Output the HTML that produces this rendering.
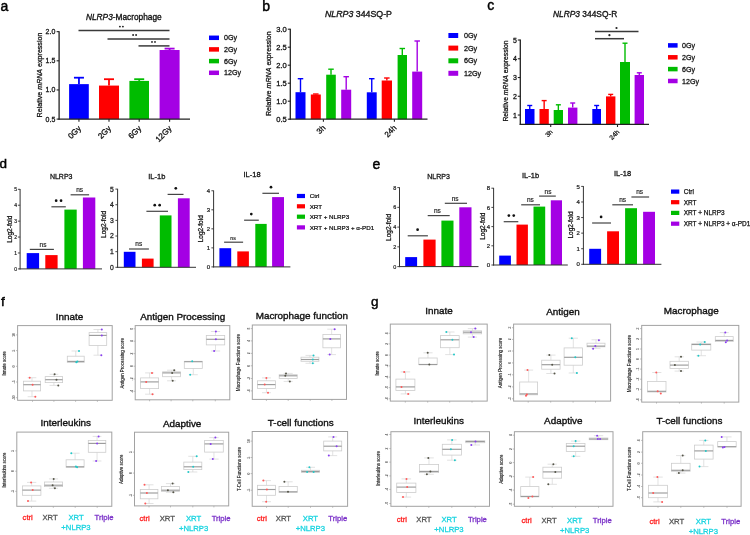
<!DOCTYPE html>
<html><head><meta charset="utf-8"><style>
html,body{margin:0;padding:0;background:#fff;}
body{width:750px;height:535px;overflow:hidden;}
svg{display:block;font-family:"Liberation Sans", sans-serif;will-change:transform;filter:blur(0.3px);}
text{stroke:currentColor;stroke-width:0.3px;}
</style></head><body>
<svg width="750" height="535" viewBox="0 0 750 535">
<rect width="750" height="535" fill="#fff"/>
<text x="0.40" y="10.80" font-size="14" text-anchor="start" fill="#000" color="#000" style="stroke-width:0.45px" >a</text>
<text x="86.00" y="20.00" font-size="8.3" text-anchor="start" fill="#111" color="#111" style="stroke-width:0.32px" ><tspan font-style="italic">NLRP3</tspan>-Macrophage</text>
<rect x="69.10" y="84.12" width="19.70" height="34.98" fill="#0000ff"/>
<line x1="78.95" y1="84.12" x2="78.95" y2="77.70" stroke="#0000ff" stroke-width="1.8" />
<line x1="73.95" y1="77.70" x2="83.95" y2="77.70" stroke="#0000ff" stroke-width="1.8" />
<rect x="99.00" y="85.58" width="20.00" height="33.52" fill="#ff0000"/>
<line x1="109.00" y1="85.58" x2="109.00" y2="79.20" stroke="#ff0000" stroke-width="1.8" />
<line x1="104.00" y1="79.20" x2="114.00" y2="79.20" stroke="#ff0000" stroke-width="1.8" />
<rect x="129.40" y="80.91" width="19.60" height="38.19" fill="#00bc00"/>
<line x1="139.20" y1="80.91" x2="139.20" y2="79.20" stroke="#00bc00" stroke-width="1.8" />
<line x1="134.20" y1="79.20" x2="144.20" y2="79.20" stroke="#00bc00" stroke-width="1.8" />
<rect x="159.60" y="50.01" width="20.00" height="69.09" fill="#a400e4"/>
<line x1="169.60" y1="50.01" x2="169.60" y2="48.60" stroke="#a400e4" stroke-width="1.8" />
<line x1="164.60" y1="48.60" x2="174.60" y2="48.60" stroke="#a400e4" stroke-width="1.8" />
<line x1="59.10" y1="31.15" x2="59.10" y2="119.70" stroke="#222" stroke-width="1.3" />
<line x1="58.50" y1="119.10" x2="190.00" y2="119.10" stroke="#222" stroke-width="1.3" />
<line x1="56.60" y1="31.65" x2="59.10" y2="31.65" stroke="#222" stroke-width="1.1" />
<text x="55.30" y="34.17" font-size="7" text-anchor="end" fill="#111" color="#111" style="stroke-width:0.27px" >2.0</text>
<line x1="56.60" y1="60.80" x2="59.10" y2="60.80" stroke="#222" stroke-width="1.1" />
<text x="55.30" y="63.32" font-size="7" text-anchor="end" fill="#111" color="#111" style="stroke-width:0.27px" >1.5</text>
<line x1="56.60" y1="89.95" x2="59.10" y2="89.95" stroke="#222" stroke-width="1.1" />
<text x="55.30" y="92.47" font-size="7" text-anchor="end" fill="#111" color="#111" style="stroke-width:0.27px" >1.0</text>
<line x1="56.60" y1="119.10" x2="59.10" y2="119.10" stroke="#222" stroke-width="1.1" />
<text x="55.30" y="121.62" font-size="7" text-anchor="end" fill="#111" color="#111" style="stroke-width:0.27px" >0.5</text>
<text transform="translate(41.80,75.00) rotate(-90)" font-size="7.1" text-anchor="middle" fill="#111" color="#111" style="stroke-width:0.27px" >Relative <tspan font-style="italic">mRNA</tspan> expression</text>
<line x1="78.95" y1="119.10" x2="78.95" y2="121.80" stroke="#222" stroke-width="1.1" />
<text transform="translate(81.55,129.00) rotate(-45)" font-size="8" text-anchor="end" fill="#111" color="#111" style="stroke-width:0.30px" >0Gy</text>
<line x1="109.00" y1="119.10" x2="109.00" y2="121.80" stroke="#222" stroke-width="1.1" />
<text transform="translate(111.60,129.00) rotate(-45)" font-size="8" text-anchor="end" fill="#111" color="#111" style="stroke-width:0.30px" >2Gy</text>
<line x1="139.20" y1="119.10" x2="139.20" y2="121.80" stroke="#222" stroke-width="1.1" />
<text transform="translate(141.80,129.00) rotate(-45)" font-size="8" text-anchor="end" fill="#111" color="#111" style="stroke-width:0.30px" >6Gy</text>
<line x1="169.60" y1="119.10" x2="169.60" y2="121.80" stroke="#222" stroke-width="1.1" />
<text transform="translate(172.20,129.00) rotate(-45)" font-size="8" text-anchor="end" fill="#111" color="#111" style="stroke-width:0.30px" >12Gy</text>
<line x1="78.50" y1="30.60" x2="169.50" y2="30.60" stroke="#3a3a3a" stroke-width="1.5" />
<circle cx="119.90" cy="26.60" r="0.95" fill="#222"/>
<circle cx="122.90" cy="26.60" r="0.95" fill="#222"/>
<line x1="107.50" y1="39.00" x2="169.50" y2="39.00" stroke="#3a3a3a" stroke-width="1.5" />
<circle cx="133.10" cy="35.00" r="0.95" fill="#222"/>
<circle cx="136.10" cy="35.00" r="0.95" fill="#222"/>
<line x1="138.50" y1="45.90" x2="169.50" y2="45.90" stroke="#3a3a3a" stroke-width="1.5" />
<circle cx="152.00" cy="41.90" r="0.95" fill="#222"/>
<circle cx="155.00" cy="41.90" r="0.95" fill="#222"/>
<rect x="209.00" y="35.55" width="10.00" height="4.50" fill="#0000ff"/>
<text x="224.00" y="40.36" font-size="7.1" text-anchor="start" fill="#111" color="#111" style="stroke-width:0.27px" >0Gy</text>
<rect x="209.00" y="47.15" width="10.00" height="4.50" fill="#ff0000"/>
<text x="224.00" y="51.96" font-size="7.1" text-anchor="start" fill="#111" color="#111" style="stroke-width:0.27px" >2Gy</text>
<rect x="209.00" y="58.85" width="10.00" height="4.50" fill="#00bc00"/>
<text x="224.00" y="63.66" font-size="7.1" text-anchor="start" fill="#111" color="#111" style="stroke-width:0.27px" >6Gy</text>
<rect x="209.00" y="70.55" width="10.00" height="4.50" fill="#a400e4"/>
<text x="224.00" y="75.36" font-size="7.1" text-anchor="start" fill="#111" color="#111" style="stroke-width:0.27px" >12Gy</text>
<text x="262.20" y="10.60" font-size="14" text-anchor="start" fill="#000" color="#000" style="stroke-width:0.45px" >b</text>
<text x="325.00" y="16.60" font-size="8.8" text-anchor="start" fill="#111" color="#111" style="stroke-width:0.33px" ><tspan font-style="italic">NLRP3</tspan> 344SQ-P</text>
<rect x="295.50" y="92.20" width="10.00" height="27.00" fill="#0000ff"/>
<line x1="300.50" y1="92.20" x2="300.50" y2="78.70" stroke="#0000ff" stroke-width="1.4" />
<line x1="297.75" y1="78.70" x2="303.25" y2="78.70" stroke="#0000ff" stroke-width="1.4" />
<rect x="310.80" y="94.50" width="10.00" height="24.70" fill="#ff0000"/>
<line x1="315.80" y1="94.50" x2="315.80" y2="94.00" stroke="#ff0000" stroke-width="1.4" />
<line x1="313.05" y1="94.00" x2="318.55" y2="94.00" stroke="#ff0000" stroke-width="1.4" />
<rect x="326.20" y="74.70" width="9.60" height="44.50" fill="#00bc00"/>
<line x1="331.00" y1="74.70" x2="331.00" y2="69.20" stroke="#00bc00" stroke-width="1.4" />
<line x1="328.25" y1="69.20" x2="333.75" y2="69.20" stroke="#00bc00" stroke-width="1.4" />
<rect x="341.20" y="89.70" width="10.00" height="29.50" fill="#a400e4"/>
<line x1="346.20" y1="89.70" x2="346.20" y2="76.70" stroke="#a400e4" stroke-width="1.4" />
<line x1="343.45" y1="76.70" x2="348.95" y2="76.70" stroke="#a400e4" stroke-width="1.4" />
<rect x="366.80" y="92.30" width="9.90" height="26.90" fill="#0000ff"/>
<line x1="371.75" y1="92.30" x2="371.75" y2="78.70" stroke="#0000ff" stroke-width="1.4" />
<line x1="369.00" y1="78.70" x2="374.50" y2="78.70" stroke="#0000ff" stroke-width="1.4" />
<rect x="381.70" y="80.50" width="10.30" height="38.70" fill="#ff0000"/>
<line x1="386.85" y1="80.50" x2="386.85" y2="78.00" stroke="#ff0000" stroke-width="1.4" />
<line x1="384.10" y1="78.00" x2="389.60" y2="78.00" stroke="#ff0000" stroke-width="1.4" />
<rect x="397.60" y="55.00" width="9.40" height="64.20" fill="#00bc00"/>
<line x1="402.30" y1="55.00" x2="402.30" y2="48.50" stroke="#00bc00" stroke-width="1.4" />
<line x1="399.55" y1="48.50" x2="405.05" y2="48.50" stroke="#00bc00" stroke-width="1.4" />
<rect x="412.20" y="71.60" width="10.00" height="47.60" fill="#a400e4"/>
<line x1="417.20" y1="71.60" x2="417.20" y2="41.00" stroke="#a400e4" stroke-width="1.4" />
<line x1="414.45" y1="41.00" x2="419.95" y2="41.00" stroke="#a400e4" stroke-width="1.4" />
<line x1="290.30" y1="28.70" x2="290.30" y2="119.80" stroke="#222" stroke-width="1.3" />
<line x1="289.70" y1="119.20" x2="427.50" y2="119.20" stroke="#222" stroke-width="1.3" />
<line x1="287.80" y1="29.20" x2="290.30" y2="29.20" stroke="#222" stroke-width="1.1" />
<text x="286.80" y="31.94" font-size="7.6" text-anchor="end" fill="#111" color="#111" style="stroke-width:0.29px" >3.0</text>
<line x1="287.80" y1="47.20" x2="290.30" y2="47.20" stroke="#222" stroke-width="1.1" />
<text x="286.80" y="49.94" font-size="7.6" text-anchor="end" fill="#111" color="#111" style="stroke-width:0.29px" >2.5</text>
<line x1="287.80" y1="65.20" x2="290.30" y2="65.20" stroke="#222" stroke-width="1.1" />
<text x="286.80" y="67.94" font-size="7.6" text-anchor="end" fill="#111" color="#111" style="stroke-width:0.29px" >2.0</text>
<line x1="287.80" y1="83.20" x2="290.30" y2="83.20" stroke="#222" stroke-width="1.1" />
<text x="286.80" y="85.94" font-size="7.6" text-anchor="end" fill="#111" color="#111" style="stroke-width:0.29px" >1.5</text>
<line x1="287.80" y1="101.20" x2="290.30" y2="101.20" stroke="#222" stroke-width="1.1" />
<text x="286.80" y="103.94" font-size="7.6" text-anchor="end" fill="#111" color="#111" style="stroke-width:0.29px" >1.0</text>
<line x1="287.80" y1="119.20" x2="290.30" y2="119.20" stroke="#222" stroke-width="1.1" />
<text x="286.80" y="121.94" font-size="7.6" text-anchor="end" fill="#111" color="#111" style="stroke-width:0.29px" >0.5</text>
<text transform="translate(270.50,73.70) rotate(-90)" font-size="7.1" text-anchor="middle" fill="#111" color="#111" style="stroke-width:0.27px" >Relative <tspan font-style="italic">mRNA</tspan> expression</text>
<line x1="323.40" y1="119.20" x2="323.40" y2="121.80" stroke="#222" stroke-width="1.1" />
<text transform="translate(326.00,128.40) rotate(-45)" font-size="7.9" text-anchor="end" fill="#111" color="#111" style="stroke-width:0.30px" >3h</text>
<line x1="394.40" y1="119.20" x2="394.40" y2="121.80" stroke="#222" stroke-width="1.1" />
<text transform="translate(397.00,128.40) rotate(-45)" font-size="7.9" text-anchor="end" fill="#111" color="#111" style="stroke-width:0.30px" >24h</text>
<rect x="448.40" y="33.00" width="9.80" height="5.00" fill="#0000ff"/>
<text x="463.90" y="38.09" font-size="7.2" text-anchor="start" fill="#111" color="#111" style="stroke-width:0.27px" >0Gy</text>
<rect x="448.40" y="45.60" width="9.80" height="5.00" fill="#ff0000"/>
<text x="463.90" y="50.69" font-size="7.2" text-anchor="start" fill="#111" color="#111" style="stroke-width:0.27px" >2Gy</text>
<rect x="448.40" y="58.30" width="9.80" height="5.00" fill="#00bc00"/>
<text x="463.90" y="63.39" font-size="7.2" text-anchor="start" fill="#111" color="#111" style="stroke-width:0.27px" >6Gy</text>
<rect x="448.40" y="70.80" width="9.80" height="5.00" fill="#a400e4"/>
<text x="463.90" y="75.89" font-size="7.2" text-anchor="start" fill="#111" color="#111" style="stroke-width:0.27px" >12Gy</text>
<text x="487.30" y="10.00" font-size="14" text-anchor="start" fill="#000" color="#000" style="stroke-width:0.45px" >c</text>
<text x="553.00" y="17.00" font-size="8.4" text-anchor="start" fill="#111" color="#111" style="stroke-width:0.32px" ><tspan font-style="italic">NLRP3</tspan> 344SQ-R</text>
<rect x="525.00" y="109.00" width="9.50" height="15.40" fill="#0000ff"/>
<line x1="529.75" y1="109.00" x2="529.75" y2="105.50" stroke="#0000ff" stroke-width="1.4" />
<line x1="527.25" y1="105.50" x2="532.25" y2="105.50" stroke="#0000ff" stroke-width="1.4" />
<rect x="539.50" y="109.00" width="9.30" height="15.40" fill="#ff0000"/>
<line x1="544.15" y1="109.00" x2="544.15" y2="100.60" stroke="#ff0000" stroke-width="1.4" />
<line x1="541.65" y1="100.60" x2="546.65" y2="100.60" stroke="#ff0000" stroke-width="1.4" />
<rect x="553.70" y="110.00" width="9.30" height="14.40" fill="#00bc00"/>
<line x1="558.35" y1="110.00" x2="558.35" y2="104.80" stroke="#00bc00" stroke-width="1.4" />
<line x1="555.85" y1="104.80" x2="560.85" y2="104.80" stroke="#00bc00" stroke-width="1.4" />
<rect x="568.00" y="107.60" width="9.40" height="16.80" fill="#a400e4"/>
<line x1="572.70" y1="107.60" x2="572.70" y2="103.00" stroke="#a400e4" stroke-width="1.4" />
<line x1="570.20" y1="103.00" x2="575.20" y2="103.00" stroke="#a400e4" stroke-width="1.4" />
<rect x="592.30" y="109.00" width="8.70" height="15.40" fill="#0000ff"/>
<line x1="596.65" y1="109.00" x2="596.65" y2="105.50" stroke="#0000ff" stroke-width="1.4" />
<line x1="594.15" y1="105.50" x2="599.15" y2="105.50" stroke="#0000ff" stroke-width="1.4" />
<rect x="606.00" y="96.40" width="9.40" height="28.00" fill="#ff0000"/>
<line x1="610.70" y1="96.40" x2="610.70" y2="94.40" stroke="#ff0000" stroke-width="1.4" />
<line x1="608.20" y1="94.40" x2="613.20" y2="94.40" stroke="#ff0000" stroke-width="1.4" />
<rect x="620.00" y="62.00" width="10.00" height="62.40" fill="#00bc00"/>
<line x1="625.00" y1="62.00" x2="625.00" y2="43.20" stroke="#00bc00" stroke-width="1.4" />
<line x1="622.50" y1="43.20" x2="627.50" y2="43.20" stroke="#00bc00" stroke-width="1.4" />
<rect x="634.60" y="75.00" width="9.40" height="49.40" fill="#a400e4"/>
<line x1="639.30" y1="75.00" x2="639.30" y2="72.80" stroke="#a400e4" stroke-width="1.4" />
<line x1="636.80" y1="72.80" x2="641.80" y2="72.80" stroke="#a400e4" stroke-width="1.4" />
<line x1="520.30" y1="39.53" x2="520.30" y2="125.00" stroke="#222" stroke-width="1.3" />
<line x1="519.70" y1="124.40" x2="649.00" y2="124.40" stroke="#222" stroke-width="1.3" />
<line x1="517.80" y1="40.03" x2="520.30" y2="40.03" stroke="#222" stroke-width="1.1" />
<text x="516.80" y="42.55" font-size="7" text-anchor="end" fill="#111" color="#111" style="stroke-width:0.27px" >5</text>
<line x1="517.80" y1="58.78" x2="520.30" y2="58.78" stroke="#222" stroke-width="1.1" />
<text x="516.80" y="61.30" font-size="7" text-anchor="end" fill="#111" color="#111" style="stroke-width:0.27px" >4</text>
<line x1="517.80" y1="77.53" x2="520.30" y2="77.53" stroke="#222" stroke-width="1.1" />
<text x="516.80" y="80.05" font-size="7" text-anchor="end" fill="#111" color="#111" style="stroke-width:0.27px" >3</text>
<line x1="517.80" y1="96.28" x2="520.30" y2="96.28" stroke="#222" stroke-width="1.1" />
<text x="516.80" y="98.80" font-size="7" text-anchor="end" fill="#111" color="#111" style="stroke-width:0.27px" >2</text>
<line x1="517.80" y1="115.03" x2="520.30" y2="115.03" stroke="#222" stroke-width="1.1" />
<text x="516.80" y="117.55" font-size="7" text-anchor="end" fill="#111" color="#111" style="stroke-width:0.27px" >1</text>
<text transform="translate(507.70,81.00) rotate(-90)" font-size="6.8" text-anchor="middle" fill="#111" color="#111" style="stroke-width:0.26px" >Relative <tspan font-style="italic">mRNA</tspan> expression</text>
<line x1="550.70" y1="124.40" x2="550.70" y2="127.00" stroke="#222" stroke-width="1.1" />
<text transform="translate(553.00,132.50) rotate(-45)" font-size="6.5" text-anchor="end" fill="#111" color="#111" style="stroke-width:0.25px" >3h</text>
<line x1="617.50" y1="124.40" x2="617.50" y2="127.00" stroke="#222" stroke-width="1.1" />
<text transform="translate(619.80,132.50) rotate(-45)" font-size="6.5" text-anchor="end" fill="#111" color="#111" style="stroke-width:0.25px" >24h</text>
<line x1="595.00" y1="31.50" x2="638.50" y2="31.50" stroke="#3a3a3a" stroke-width="1.5" />
<circle cx="616.50" cy="28.00" r="1.1" fill="#222"/>
<line x1="595.00" y1="38.70" x2="624.00" y2="38.70" stroke="#3a3a3a" stroke-width="1.5" />
<circle cx="609.40" cy="35.20" r="1.1" fill="#222"/>
<rect x="668.00" y="43.15" width="9.60" height="4.50" fill="#0000ff"/>
<text x="682.00" y="47.96" font-size="7.1" text-anchor="start" fill="#111" color="#111" style="stroke-width:0.27px" >0Gy</text>
<rect x="668.00" y="55.05" width="9.60" height="4.50" fill="#ff0000"/>
<text x="682.00" y="59.86" font-size="7.1" text-anchor="start" fill="#111" color="#111" style="stroke-width:0.27px" >2Gy</text>
<rect x="668.00" y="66.85" width="9.60" height="4.50" fill="#00bc00"/>
<text x="682.00" y="71.66" font-size="7.1" text-anchor="start" fill="#111" color="#111" style="stroke-width:0.27px" >6Gy</text>
<rect x="668.00" y="78.75" width="9.60" height="4.50" fill="#a400e4"/>
<text x="682.00" y="83.56" font-size="7.1" text-anchor="start" fill="#111" color="#111" style="stroke-width:0.27px" >12Gy</text>
<text x="-0.60" y="168.00" font-size="13.5" text-anchor="start" fill="#000" color="#000" style="stroke-width:0.45px" >d</text>
<text x="61.20" y="179.40" font-size="7.0" text-anchor="middle" fill="#111" color="#111" style="stroke-width:0.27px" >NLRP3</text>
<rect x="26.70" y="253.10" width="12.40" height="15.80" fill="#0000ff"/>
<rect x="45.30" y="255.10" width="12.30" height="13.80" fill="#ff0000"/>
<rect x="64.40" y="209.60" width="12.30" height="59.30" fill="#00bc00"/>
<rect x="82.90" y="197.50" width="12.40" height="71.40" fill="#a400e4"/>
<line x1="20.10" y1="189.00" x2="20.10" y2="269.40" stroke="#333" stroke-width="1.0" />
<line x1="19.60" y1="268.90" x2="102.00" y2="268.90" stroke="#333" stroke-width="1.0" />
<line x1="17.90" y1="268.90" x2="20.10" y2="268.90" stroke="#333" stroke-width="0.9" />
<text x="17.10" y="270.70" font-size="5.0" text-anchor="end" fill="#222" color="#222" style="stroke-width:0.19px" >0</text>
<line x1="17.90" y1="252.98" x2="20.10" y2="252.98" stroke="#333" stroke-width="0.9" />
<text x="17.10" y="254.78" font-size="5.0" text-anchor="end" fill="#222" color="#222" style="stroke-width:0.19px" >1</text>
<line x1="17.90" y1="237.06" x2="20.10" y2="237.06" stroke="#333" stroke-width="0.9" />
<text x="17.10" y="238.86" font-size="5.0" text-anchor="end" fill="#222" color="#222" style="stroke-width:0.19px" >2</text>
<line x1="17.90" y1="221.14" x2="20.10" y2="221.14" stroke="#333" stroke-width="0.9" />
<text x="17.10" y="222.94" font-size="5.0" text-anchor="end" fill="#222" color="#222" style="stroke-width:0.19px" >3</text>
<line x1="17.90" y1="205.22" x2="20.10" y2="205.22" stroke="#333" stroke-width="0.9" />
<text x="17.10" y="207.02" font-size="5.0" text-anchor="end" fill="#222" color="#222" style="stroke-width:0.19px" >4</text>
<line x1="17.90" y1="189.30" x2="20.10" y2="189.30" stroke="#333" stroke-width="0.9" />
<text x="17.10" y="191.10" font-size="5.0" text-anchor="end" fill="#222" color="#222" style="stroke-width:0.19px" >5</text>
<text transform="translate(11.50,229.20) rotate(-90)" font-size="6.5" text-anchor="middle" fill="#111" color="#111" style="stroke-width:0.25px" >Log2-fold</text>
<line x1="29.80" y1="249.40" x2="53.90" y2="249.40" stroke="#444" stroke-width="1.2" />
<text x="43.00" y="246.80" font-size="6.510000000000001" text-anchor="middle" fill="#222" color="#222"  style="stroke-width:0.18px">ns</text>
<line x1="51.40" y1="206.80" x2="65.80" y2="206.80" stroke="#444" stroke-width="1.2" />
<circle cx="56.15" cy="200.70" r="1.35" fill="#111"/>
<circle cx="61.05" cy="200.70" r="1.35" fill="#111"/>
<line x1="70.60" y1="194.80" x2="89.10" y2="194.80" stroke="#444" stroke-width="1.2" />
<text x="79.60" y="192.20" font-size="6.510000000000001" text-anchor="middle" fill="#222" color="#222"  style="stroke-width:0.18px">ns</text>
<text x="156.80" y="179.00" font-size="7.5" text-anchor="middle" fill="#111" color="#111" style="stroke-width:0.28px" >IL-1b</text>
<rect x="123.80" y="251.80" width="11.70" height="15.50" fill="#0000ff"/>
<rect x="141.90" y="258.60" width="11.70" height="8.70" fill="#ff0000"/>
<rect x="159.80" y="215.40" width="11.70" height="51.90" fill="#00bc00"/>
<rect x="177.90" y="198.30" width="11.80" height="69.00" fill="#a400e4"/>
<line x1="117.60" y1="188.80" x2="117.60" y2="267.80" stroke="#333" stroke-width="1.0" />
<line x1="117.10" y1="267.30" x2="196.00" y2="267.30" stroke="#333" stroke-width="1.0" />
<line x1="115.40" y1="267.30" x2="117.60" y2="267.30" stroke="#333" stroke-width="0.9" />
<text x="113.70" y="269.75" font-size="6.8" text-anchor="end" fill="#222" color="#222" style="stroke-width:0.26px" >0</text>
<line x1="115.40" y1="251.66" x2="117.60" y2="251.66" stroke="#333" stroke-width="0.9" />
<text x="113.70" y="254.11" font-size="6.8" text-anchor="end" fill="#222" color="#222" style="stroke-width:0.26px" >1</text>
<line x1="115.40" y1="236.02" x2="117.60" y2="236.02" stroke="#333" stroke-width="0.9" />
<text x="113.70" y="238.47" font-size="6.8" text-anchor="end" fill="#222" color="#222" style="stroke-width:0.26px" >2</text>
<line x1="115.40" y1="220.38" x2="117.60" y2="220.38" stroke="#333" stroke-width="0.9" />
<text x="113.70" y="222.83" font-size="6.8" text-anchor="end" fill="#222" color="#222" style="stroke-width:0.26px" >3</text>
<line x1="115.40" y1="204.74" x2="117.60" y2="204.74" stroke="#333" stroke-width="0.9" />
<text x="113.70" y="207.19" font-size="6.8" text-anchor="end" fill="#222" color="#222" style="stroke-width:0.26px" >4</text>
<line x1="115.40" y1="189.10" x2="117.60" y2="189.10" stroke="#333" stroke-width="0.9" />
<text x="113.70" y="191.55" font-size="6.8" text-anchor="end" fill="#222" color="#222" style="stroke-width:0.26px" >5</text>
<text transform="translate(106.20,224.40) rotate(-90)" font-size="6.5" text-anchor="middle" fill="#111" color="#111" style="stroke-width:0.25px" >Log2-fold</text>
<line x1="129.00" y1="249.00" x2="148.90" y2="249.00" stroke="#444" stroke-width="1.2" />
<text x="138.80" y="246.40" font-size="6.510000000000001" text-anchor="middle" fill="#222" color="#222"  style="stroke-width:0.18px">ns</text>
<line x1="146.40" y1="211.30" x2="168.00" y2="211.30" stroke="#444" stroke-width="1.2" />
<circle cx="154.75" cy="205.20" r="1.35" fill="#111"/>
<circle cx="159.65" cy="205.20" r="1.35" fill="#111"/>
<line x1="167.60" y1="194.40" x2="183.50" y2="194.40" stroke="#444" stroke-width="1.2" />
<circle cx="175.80" cy="188.30" r="1.35" fill="#111"/>
<text x="252.10" y="177.20" font-size="7.5" text-anchor="middle" fill="#111" color="#111" style="stroke-width:0.28px" >IL-18</text>
<rect x="219.40" y="248.20" width="11.80" height="18.70" fill="#0000ff"/>
<rect x="237.30" y="251.40" width="11.60" height="15.50" fill="#ff0000"/>
<rect x="255.30" y="223.90" width="11.40" height="43.00" fill="#00bc00"/>
<rect x="272.10" y="197.10" width="11.90" height="69.80" fill="#a400e4"/>
<line x1="213.60" y1="190.48" x2="213.60" y2="267.40" stroke="#333" stroke-width="1.0" />
<line x1="213.10" y1="266.90" x2="290.40" y2="266.90" stroke="#333" stroke-width="1.0" />
<line x1="211.40" y1="266.90" x2="213.60" y2="266.90" stroke="#333" stroke-width="0.9" />
<text x="210.10" y="269.06" font-size="6.0" text-anchor="end" fill="#222" color="#222" style="stroke-width:0.23px" >0</text>
<line x1="211.40" y1="247.87" x2="213.60" y2="247.87" stroke="#333" stroke-width="0.9" />
<text x="210.10" y="250.03" font-size="6.0" text-anchor="end" fill="#222" color="#222" style="stroke-width:0.23px" >1</text>
<line x1="211.40" y1="228.84" x2="213.60" y2="228.84" stroke="#333" stroke-width="0.9" />
<text x="210.10" y="231.00" font-size="6.0" text-anchor="end" fill="#222" color="#222" style="stroke-width:0.23px" >2</text>
<line x1="211.40" y1="209.81" x2="213.60" y2="209.81" stroke="#333" stroke-width="0.9" />
<text x="210.10" y="211.97" font-size="6.0" text-anchor="end" fill="#222" color="#222" style="stroke-width:0.23px" >3</text>
<line x1="211.40" y1="190.78" x2="213.60" y2="190.78" stroke="#333" stroke-width="0.9" />
<text x="210.10" y="192.94" font-size="6.0" text-anchor="end" fill="#222" color="#222" style="stroke-width:0.23px" >4</text>
<text transform="translate(202.60,228.80) rotate(-90)" font-size="6.5" text-anchor="middle" fill="#111" color="#111" style="stroke-width:0.25px" >Log2-fold</text>
<line x1="224.10" y1="242.20" x2="243.10" y2="242.20" stroke="#444" stroke-width="1.2" />
<text x="233.00" y="239.60" font-size="5.115" text-anchor="middle" fill="#222" color="#222"  style="stroke-width:0.18px">ns</text>
<line x1="244.10" y1="220.20" x2="258.80" y2="220.20" stroke="#444" stroke-width="1.2" />
<circle cx="251.30" cy="214.10" r="1.35" fill="#111"/>
<line x1="262.40" y1="193.30" x2="279.00" y2="193.30" stroke="#444" stroke-width="1.2" />
<circle cx="271.00" cy="187.20" r="1.35" fill="#111"/>
<rect x="296.90" y="193.90" width="8.10" height="4.20" fill="#0000ff"/>
<text x="309.70" y="198.25" font-size="6.25" text-anchor="start" fill="#111" color="#111" style="stroke-width:0.24px" >Ctrl</text>
<rect x="296.90" y="204.20" width="8.10" height="4.20" fill="#ff0000"/>
<text x="309.70" y="208.55" font-size="6.25" text-anchor="start" fill="#111" color="#111" style="stroke-width:0.24px" >XRT</text>
<rect x="296.90" y="214.60" width="8.10" height="4.20" fill="#00bc00"/>
<text x="309.70" y="218.95" font-size="6.25" text-anchor="start" fill="#111" color="#111" style="stroke-width:0.24px" >XRT + NLRP3</text>
<rect x="296.90" y="225.30" width="8.10" height="4.20" fill="#a400e4"/>
<text x="309.70" y="229.65" font-size="6.25" text-anchor="start" fill="#111" color="#111" style="stroke-width:0.24px" >XRT + NLRP3 + &#945;-PD1</text>
<text x="372.60" y="168.70" font-size="14" text-anchor="start" fill="#000" color="#000" style="stroke-width:0.45px" >e</text>
<text x="438.50" y="178.60" font-size="7.0" text-anchor="middle" fill="#111" color="#111" style="stroke-width:0.27px" >NLRP3</text>
<rect x="405.20" y="257.10" width="11.90" height="9.50" fill="#0000ff"/>
<rect x="423.40" y="239.60" width="12.20" height="27.00" fill="#ff0000"/>
<rect x="441.40" y="220.60" width="12.10" height="46.00" fill="#00bc00"/>
<rect x="459.30" y="207.30" width="12.20" height="59.30" fill="#a400e4"/>
<line x1="399.50" y1="187.30" x2="399.50" y2="267.10" stroke="#333" stroke-width="1.0" />
<line x1="399.00" y1="266.60" x2="478.50" y2="266.60" stroke="#333" stroke-width="1.0" />
<line x1="397.30" y1="266.60" x2="399.50" y2="266.60" stroke="#333" stroke-width="0.9" />
<text x="396.25" y="268.58" font-size="5.5" text-anchor="end" fill="#222" color="#222" style="stroke-width:0.21px" >0</text>
<line x1="397.30" y1="246.85" x2="399.50" y2="246.85" stroke="#333" stroke-width="0.9" />
<text x="396.25" y="248.83" font-size="5.5" text-anchor="end" fill="#222" color="#222" style="stroke-width:0.21px" >2</text>
<line x1="397.30" y1="227.10" x2="399.50" y2="227.10" stroke="#333" stroke-width="0.9" />
<text x="396.25" y="229.08" font-size="5.5" text-anchor="end" fill="#222" color="#222" style="stroke-width:0.21px" >4</text>
<line x1="397.30" y1="207.35" x2="399.50" y2="207.35" stroke="#333" stroke-width="0.9" />
<text x="396.25" y="209.33" font-size="5.5" text-anchor="end" fill="#222" color="#222" style="stroke-width:0.21px" >6</text>
<line x1="397.30" y1="187.60" x2="399.50" y2="187.60" stroke="#333" stroke-width="0.9" />
<text x="396.25" y="189.58" font-size="5.5" text-anchor="end" fill="#222" color="#222" style="stroke-width:0.21px" >8</text>
<text transform="translate(390.80,227.40) rotate(-90)" font-size="6.5" text-anchor="middle" fill="#111" color="#111" style="stroke-width:0.25px" >Log2-fold</text>
<line x1="407.70" y1="235.80" x2="427.90" y2="235.80" stroke="#444" stroke-width="1.2" />
<circle cx="417.60" cy="229.70" r="1.35" fill="#111"/>
<line x1="427.70" y1="215.60" x2="449.70" y2="215.60" stroke="#444" stroke-width="1.2" />
<text x="437.40" y="213.00" font-size="6.510000000000001" text-anchor="middle" fill="#222" color="#222"  style="stroke-width:0.18px">ns</text>
<line x1="444.80" y1="203.30" x2="467.00" y2="203.30" stroke="#444" stroke-width="1.2" />
<text x="455.20" y="200.70" font-size="6.510000000000001" text-anchor="middle" fill="#222" color="#222"  style="stroke-width:0.18px">ns</text>
<text x="530.60" y="178.10" font-size="7.5" text-anchor="middle" fill="#111" color="#111" style="stroke-width:0.28px" >IL-1b</text>
<rect x="499.20" y="255.60" width="11.70" height="9.40" fill="#0000ff"/>
<rect x="516.50" y="224.60" width="11.40" height="40.40" fill="#ff0000"/>
<rect x="533.50" y="206.60" width="11.70" height="58.40" fill="#00bc00"/>
<rect x="550.80" y="200.30" width="11.20" height="64.70" fill="#a400e4"/>
<line x1="493.60" y1="187.90" x2="493.60" y2="265.50" stroke="#333" stroke-width="1.0" />
<line x1="493.10" y1="265.00" x2="567.80" y2="265.00" stroke="#333" stroke-width="1.0" />
<line x1="491.40" y1="265.00" x2="493.60" y2="265.00" stroke="#333" stroke-width="0.9" />
<text x="490.10" y="267.16" font-size="6.0" text-anchor="end" fill="#222" color="#222" style="stroke-width:0.23px" >0</text>
<line x1="491.40" y1="245.80" x2="493.60" y2="245.80" stroke="#333" stroke-width="0.9" />
<text x="490.10" y="247.96" font-size="6.0" text-anchor="end" fill="#222" color="#222" style="stroke-width:0.23px" >2</text>
<line x1="491.40" y1="226.60" x2="493.60" y2="226.60" stroke="#333" stroke-width="0.9" />
<text x="490.10" y="228.76" font-size="6.0" text-anchor="end" fill="#222" color="#222" style="stroke-width:0.23px" >4</text>
<line x1="491.40" y1="207.40" x2="493.60" y2="207.40" stroke="#333" stroke-width="0.9" />
<text x="490.10" y="209.56" font-size="6.0" text-anchor="end" fill="#222" color="#222" style="stroke-width:0.23px" >6</text>
<line x1="491.40" y1="188.20" x2="493.60" y2="188.20" stroke="#333" stroke-width="0.9" />
<text x="490.10" y="190.36" font-size="6.0" text-anchor="end" fill="#222" color="#222" style="stroke-width:0.23px" >8</text>
<text transform="translate(484.60,226.20) rotate(-90)" font-size="6.5" text-anchor="middle" fill="#111" color="#111" style="stroke-width:0.25px" >Log2-fold</text>
<line x1="503.70" y1="221.70" x2="518.30" y2="221.70" stroke="#444" stroke-width="1.2" />
<circle cx="508.85" cy="215.60" r="1.35" fill="#111"/>
<circle cx="513.75" cy="215.60" r="1.35" fill="#111"/>
<line x1="521.20" y1="204.80" x2="540.00" y2="204.80" stroke="#444" stroke-width="1.2" />
<text x="530.40" y="202.20" font-size="6.510000000000001" text-anchor="middle" fill="#222" color="#222"  style="stroke-width:0.18px">ns</text>
<line x1="539.10" y1="196.10" x2="555.80" y2="196.10" stroke="#444" stroke-width="1.2" />
<text x="548.00" y="193.50" font-size="6.510000000000001" text-anchor="middle" fill="#222" color="#222"  style="stroke-width:0.18px">ns</text>
<text x="622.60" y="176.30" font-size="7.5" text-anchor="middle" fill="#111" color="#111" style="stroke-width:0.28px" >IL-18</text>
<rect x="589.20" y="248.80" width="11.90" height="15.50" fill="#0000ff"/>
<rect x="607.10" y="231.30" width="11.90" height="33.00" fill="#ff0000"/>
<rect x="625.10" y="208.20" width="11.90" height="56.10" fill="#00bc00"/>
<rect x="643.10" y="211.80" width="11.90" height="52.50" fill="#a400e4"/>
<line x1="583.40" y1="186.10" x2="583.40" y2="264.80" stroke="#333" stroke-width="1.0" />
<line x1="582.90" y1="264.30" x2="661.40" y2="264.30" stroke="#333" stroke-width="1.0" />
<line x1="581.20" y1="264.30" x2="583.40" y2="264.30" stroke="#333" stroke-width="0.9" />
<text x="579.90" y="266.46" font-size="6.0" text-anchor="end" fill="#222" color="#222" style="stroke-width:0.23px" >0</text>
<line x1="581.20" y1="248.72" x2="583.40" y2="248.72" stroke="#333" stroke-width="0.9" />
<text x="579.90" y="250.88" font-size="6.0" text-anchor="end" fill="#222" color="#222" style="stroke-width:0.23px" >1</text>
<line x1="581.20" y1="233.14" x2="583.40" y2="233.14" stroke="#333" stroke-width="0.9" />
<text x="579.90" y="235.30" font-size="6.0" text-anchor="end" fill="#222" color="#222" style="stroke-width:0.23px" >2</text>
<line x1="581.20" y1="217.56" x2="583.40" y2="217.56" stroke="#333" stroke-width="0.9" />
<text x="579.90" y="219.72" font-size="6.0" text-anchor="end" fill="#222" color="#222" style="stroke-width:0.23px" >3</text>
<line x1="581.20" y1="201.98" x2="583.40" y2="201.98" stroke="#333" stroke-width="0.9" />
<text x="579.90" y="204.14" font-size="6.0" text-anchor="end" fill="#222" color="#222" style="stroke-width:0.23px" >4</text>
<line x1="581.20" y1="186.40" x2="583.40" y2="186.40" stroke="#333" stroke-width="0.9" />
<text x="579.90" y="188.56" font-size="6.0" text-anchor="end" fill="#222" color="#222" style="stroke-width:0.23px" >5</text>
<text transform="translate(573.20,225.00) rotate(-90)" font-size="6.5" text-anchor="middle" fill="#111" color="#111" style="stroke-width:0.25px" >Log2-fold</text>
<line x1="592.10" y1="223.00" x2="611.00" y2="223.00" stroke="#444" stroke-width="1.2" />
<circle cx="601.10" cy="216.90" r="1.35" fill="#111"/>
<line x1="612.30" y1="204.80" x2="633.00" y2="204.80" stroke="#444" stroke-width="1.2" />
<text x="622.60" y="202.20" font-size="6.510000000000001" text-anchor="middle" fill="#222" color="#222"  style="stroke-width:0.18px">ns</text>
<line x1="631.40" y1="197.00" x2="649.10" y2="197.00" stroke="#444" stroke-width="1.2" />
<text x="639.60" y="194.40" font-size="6.510000000000001" text-anchor="middle" fill="#222" color="#222"  style="stroke-width:0.18px">ns</text>
<rect x="671.00" y="189.50" width="8.30" height="4.20" fill="#0000ff"/>
<text x="683.80" y="193.92" font-size="6.45" text-anchor="start" fill="#111" color="#111" style="stroke-width:0.25px" >Ctrl</text>
<rect x="671.00" y="200.10" width="8.30" height="4.20" fill="#ff0000"/>
<text x="683.80" y="204.52" font-size="6.45" text-anchor="start" fill="#111" color="#111" style="stroke-width:0.25px" >XRT</text>
<rect x="671.00" y="210.80" width="8.30" height="4.20" fill="#00bc00"/>
<text x="683.80" y="215.22" font-size="6.45" text-anchor="start" fill="#111" color="#111" style="stroke-width:0.25px" >XRT + NLRP3</text>
<rect x="671.00" y="221.60" width="8.30" height="4.20" fill="#a400e4"/>
<text x="683.80" y="226.02" font-size="6.45" text-anchor="start" fill="#111" color="#111" style="stroke-width:0.25px" >XRT + NLRP3 + &#945;-PD1</text>
<text x="0.90" y="306.40" font-size="13.5" text-anchor="start" fill="#000" color="#000" style="stroke-width:0.45px" >f</text>
<text x="371.00" y="306.10" font-size="13.5" text-anchor="start" fill="#000" color="#000" style="stroke-width:0.45px" >g</text>
<text x="69.50" y="319.60" font-size="9.9" text-anchor="middle" fill="#111" color="#111" style="stroke-width:0.38px" >Innate</text>
<rect x="17.60" y="325.60" width="94.60" height="74.70" fill="none" stroke="#a2a2a2" stroke-width="1"/>
<line x1="16.00" y1="334.90" x2="17.60" y2="334.90" stroke="#a2a2a2" stroke-width="0.7" />
<text transform="translate(15.00,334.90) rotate(-90)" font-size="3.3" text-anchor="middle" fill="#555" color="#555"  style="stroke-width:0.08px">10</text>
<line x1="16.00" y1="350.60" x2="17.60" y2="350.60" stroke="#a2a2a2" stroke-width="0.7" />
<text transform="translate(15.00,350.60) rotate(-90)" font-size="3.3" text-anchor="middle" fill="#555" color="#555"  style="stroke-width:0.08px">5</text>
<line x1="16.00" y1="366.30" x2="17.60" y2="366.30" stroke="#a2a2a2" stroke-width="0.7" />
<text transform="translate(15.00,366.30) rotate(-90)" font-size="3.3" text-anchor="middle" fill="#555" color="#555"  style="stroke-width:0.08px">0</text>
<line x1="16.00" y1="382.00" x2="17.60" y2="382.00" stroke="#a2a2a2" stroke-width="0.7" />
<text transform="translate(15.00,382.00) rotate(-90)" font-size="3.3" text-anchor="middle" fill="#555" color="#555"  style="stroke-width:0.08px">-5</text>
<line x1="16.00" y1="397.70" x2="17.60" y2="397.70" stroke="#a2a2a2" stroke-width="0.7" />
<text transform="translate(15.00,397.70) rotate(-90)" font-size="3.3" text-anchor="middle" fill="#555" color="#555"  style="stroke-width:0.08px">-10</text>
<line x1="32.50" y1="400.30" x2="32.50" y2="401.80" stroke="#a2a2a2" stroke-width="0.7" />
<line x1="53.90" y1="400.30" x2="53.90" y2="401.80" stroke="#a2a2a2" stroke-width="0.7" />
<line x1="75.60" y1="400.30" x2="75.60" y2="401.80" stroke="#a2a2a2" stroke-width="0.7" />
<line x1="97.40" y1="400.30" x2="97.40" y2="401.80" stroke="#a2a2a2" stroke-width="0.7" />
<text transform="translate(6.00,363.40) rotate(-90)" font-size="4.45" text-anchor="middle" fill="#222" color="#222"  style="stroke-width:0.15px">Innate score</text>
<line x1="32.00" y1="377.70" x2="32.00" y2="381.20" stroke="#d6d6d6" stroke-width="0.7" />
<line x1="27.70" y1="377.70" x2="36.30" y2="377.70" stroke="#d6d6d6" stroke-width="0.7" />
<line x1="32.00" y1="390.90" x2="32.00" y2="396.70" stroke="#d6d6d6" stroke-width="0.7" />
<line x1="27.70" y1="396.70" x2="36.30" y2="396.70" stroke="#d6d6d6" stroke-width="0.7" />
<rect x="23.40" y="381.20" width="17.20" height="9.70" fill="none" stroke="#cdcdcd" stroke-width="0.8"/>
<line x1="23.40" y1="384.70" x2="40.60" y2="384.70" stroke="#9c9c9c" stroke-width="1.15" />
<circle cx="29.70" cy="377.70" r="1.0" fill="#ff5a5a"/>
<circle cx="32.60" cy="384.70" r="1.0" fill="#ff5a5a"/>
<circle cx="35.30" cy="396.70" r="1.0" fill="#ff5a5a"/>
<line x1="53.90" y1="374.30" x2="53.90" y2="376.60" stroke="#d6d6d6" stroke-width="0.7" />
<line x1="49.55" y1="374.30" x2="58.25" y2="374.30" stroke="#d6d6d6" stroke-width="0.7" />
<line x1="53.90" y1="382.60" x2="53.90" y2="385.40" stroke="#d6d6d6" stroke-width="0.7" />
<line x1="49.55" y1="385.40" x2="58.25" y2="385.40" stroke="#d6d6d6" stroke-width="0.7" />
<rect x="45.20" y="376.60" width="17.40" height="6.00" fill="none" stroke="#cdcdcd" stroke-width="0.8"/>
<line x1="45.20" y1="379.70" x2="62.60" y2="379.70" stroke="#9c9c9c" stroke-width="1.15" />
<circle cx="54.60" cy="374.30" r="1.0" fill="#555548"/>
<circle cx="56.50" cy="379.70" r="1.0" fill="#555548"/>
<circle cx="58.30" cy="385.40" r="1.0" fill="#555548"/>
<line x1="75.75" y1="351.00" x2="75.75" y2="356.20" stroke="#d6d6d6" stroke-width="0.7" />
<line x1="71.53" y1="351.00" x2="79.97" y2="351.00" stroke="#d6d6d6" stroke-width="0.7" />
<rect x="67.30" y="356.20" width="16.90" height="6.30" fill="none" stroke="#cdcdcd" stroke-width="0.8"/>
<line x1="67.30" y1="361.40" x2="84.20" y2="361.40" stroke="#9c9c9c" stroke-width="1.15" />
<circle cx="79.00" cy="351.00" r="1.0" fill="#22c8c8"/>
<circle cx="76.30" cy="362.30" r="1.0" fill="#22c8c8"/>
<circle cx="77.40" cy="361.40" r="1.0" fill="#22c8c8"/>
<line x1="97.90" y1="329.50" x2="97.90" y2="332.60" stroke="#d6d6d6" stroke-width="0.7" />
<line x1="93.50" y1="329.50" x2="102.30" y2="329.50" stroke="#d6d6d6" stroke-width="0.7" />
<line x1="97.90" y1="345.40" x2="97.90" y2="355.20" stroke="#d6d6d6" stroke-width="0.7" />
<line x1="93.50" y1="355.20" x2="102.30" y2="355.20" stroke="#d6d6d6" stroke-width="0.7" />
<rect x="89.10" y="332.60" width="17.60" height="12.80" fill="none" stroke="#cdcdcd" stroke-width="0.8"/>
<line x1="89.10" y1="335.40" x2="106.70" y2="335.40" stroke="#9c9c9c" stroke-width="1.15" />
<circle cx="101.80" cy="329.60" r="1.0" fill="#8a3ff0"/>
<circle cx="101.80" cy="335.40" r="1.0" fill="#8a3ff0"/>
<circle cx="101.30" cy="355.20" r="1.0" fill="#8a3ff0"/>
<text x="182.70" y="320.40" font-size="9.9" text-anchor="middle" fill="#111" color="#111" style="stroke-width:0.38px" >Antigen Processing</text>
<rect x="135.20" y="325.60" width="94.60" height="74.20" fill="none" stroke="#a2a2a2" stroke-width="1"/>
<line x1="133.60" y1="328.80" x2="135.20" y2="328.80" stroke="#a2a2a2" stroke-width="0.7" />
<text transform="translate(132.60,328.80) rotate(-90)" font-size="3.3" text-anchor="middle" fill="#555" color="#555"  style="stroke-width:0.08px">6</text>
<line x1="133.60" y1="341.20" x2="135.20" y2="341.20" stroke="#a2a2a2" stroke-width="0.7" />
<text transform="translate(132.60,341.20) rotate(-90)" font-size="3.3" text-anchor="middle" fill="#555" color="#555"  style="stroke-width:0.08px">4</text>
<line x1="133.60" y1="353.60" x2="135.20" y2="353.60" stroke="#a2a2a2" stroke-width="0.7" />
<text transform="translate(132.60,353.60) rotate(-90)" font-size="3.3" text-anchor="middle" fill="#555" color="#555"  style="stroke-width:0.08px">2</text>
<line x1="133.60" y1="366.20" x2="135.20" y2="366.20" stroke="#a2a2a2" stroke-width="0.7" />
<text transform="translate(132.60,366.20) rotate(-90)" font-size="3.3" text-anchor="middle" fill="#555" color="#555"  style="stroke-width:0.08px">0</text>
<line x1="133.60" y1="379.00" x2="135.20" y2="379.00" stroke="#a2a2a2" stroke-width="0.7" />
<text transform="translate(132.60,379.00) rotate(-90)" font-size="3.3" text-anchor="middle" fill="#555" color="#555"  style="stroke-width:0.08px">-2</text>
<line x1="133.60" y1="391.30" x2="135.20" y2="391.30" stroke="#a2a2a2" stroke-width="0.7" />
<text transform="translate(132.60,391.30) rotate(-90)" font-size="3.3" text-anchor="middle" fill="#555" color="#555"  style="stroke-width:0.08px">-4</text>
<line x1="149.60" y1="399.80" x2="149.60" y2="401.30" stroke="#a2a2a2" stroke-width="0.7" />
<line x1="171.10" y1="399.80" x2="171.10" y2="401.30" stroke="#a2a2a2" stroke-width="0.7" />
<line x1="192.80" y1="399.80" x2="192.80" y2="401.30" stroke="#a2a2a2" stroke-width="0.7" />
<line x1="215.30" y1="399.80" x2="215.30" y2="401.30" stroke="#a2a2a2" stroke-width="0.7" />
<text transform="translate(123.60,363.30) rotate(-90)" font-size="4.45" text-anchor="middle" fill="#222" color="#222"  style="stroke-width:0.15px">Antigen Processing score</text>
<line x1="149.60" y1="372.90" x2="149.60" y2="377.90" stroke="#d6d6d6" stroke-width="0.7" />
<line x1="145.10" y1="372.90" x2="154.10" y2="372.90" stroke="#d6d6d6" stroke-width="0.7" />
<line x1="149.60" y1="388.60" x2="149.60" y2="394.20" stroke="#d6d6d6" stroke-width="0.7" />
<line x1="145.10" y1="394.20" x2="154.10" y2="394.20" stroke="#d6d6d6" stroke-width="0.7" />
<rect x="140.60" y="377.90" width="18.00" height="10.70" fill="none" stroke="#cdcdcd" stroke-width="0.8"/>
<line x1="140.60" y1="381.90" x2="158.60" y2="381.90" stroke="#9c9c9c" stroke-width="1.15" />
<circle cx="152.00" cy="372.90" r="1.0" fill="#ff5a5a"/>
<circle cx="146.20" cy="381.90" r="1.0" fill="#ff5a5a"/>
<circle cx="152.50" cy="394.20" r="1.0" fill="#ff5a5a"/>
<line x1="171.55" y1="370.20" x2="171.55" y2="371.80" stroke="#d6d6d6" stroke-width="0.7" />
<line x1="167.08" y1="370.20" x2="176.03" y2="370.20" stroke="#d6d6d6" stroke-width="0.7" />
<line x1="171.55" y1="376.70" x2="171.55" y2="380.80" stroke="#d6d6d6" stroke-width="0.7" />
<line x1="167.08" y1="380.80" x2="176.03" y2="380.80" stroke="#d6d6d6" stroke-width="0.7" />
<rect x="162.60" y="371.80" width="17.90" height="4.90" fill="none" stroke="#cdcdcd" stroke-width="0.8"/>
<line x1="162.60" y1="372.90" x2="180.50" y2="372.90" stroke="#9c9c9c" stroke-width="1.15" />
<circle cx="174.20" cy="370.20" r="1.0" fill="#555548"/>
<circle cx="172.20" cy="372.90" r="1.0" fill="#555548"/>
<circle cx="172.70" cy="380.80" r="1.0" fill="#555548"/>
<line x1="193.30" y1="368.40" x2="193.30" y2="374.70" stroke="#d6d6d6" stroke-width="0.7" />
<line x1="188.80" y1="374.70" x2="197.80" y2="374.70" stroke="#d6d6d6" stroke-width="0.7" />
<rect x="184.30" y="361.30" width="18.00" height="7.10" fill="none" stroke="#cdcdcd" stroke-width="0.8"/>
<line x1="184.30" y1="361.70" x2="202.30" y2="361.70" stroke="#9c9c9c" stroke-width="1.15" />
<circle cx="192.20" cy="361.30" r="1.0" fill="#22c8c8"/>
<circle cx="190.20" cy="374.70" r="1.0" fill="#22c8c8"/>
<line x1="215.50" y1="331.50" x2="215.50" y2="335.50" stroke="#d6d6d6" stroke-width="0.7" />
<line x1="210.90" y1="331.50" x2="220.10" y2="331.50" stroke="#d6d6d6" stroke-width="0.7" />
<line x1="215.50" y1="344.90" x2="215.50" y2="351.00" stroke="#d6d6d6" stroke-width="0.7" />
<line x1="210.90" y1="351.00" x2="220.10" y2="351.00" stroke="#d6d6d6" stroke-width="0.7" />
<rect x="206.30" y="335.50" width="18.40" height="9.40" fill="none" stroke="#cdcdcd" stroke-width="0.8"/>
<line x1="206.30" y1="339.30" x2="224.70" y2="339.30" stroke="#9c9c9c" stroke-width="1.15" />
<circle cx="215.90" cy="331.50" r="1.0" fill="#8a3ff0"/>
<circle cx="215.90" cy="339.30" r="1.0" fill="#8a3ff0"/>
<circle cx="214.10" cy="351.00" r="1.0" fill="#8a3ff0"/>
<text x="301.80" y="319.00" font-size="9.9" text-anchor="middle" fill="#111" color="#111" style="stroke-width:0.38px" >Macrophage function</text>
<rect x="252.30" y="325.00" width="94.20" height="74.40" fill="none" stroke="#a2a2a2" stroke-width="1"/>
<line x1="250.70" y1="328.60" x2="252.30" y2="328.60" stroke="#a2a2a2" stroke-width="0.7" />
<text transform="translate(249.70,328.60) rotate(-90)" font-size="3.3" text-anchor="middle" fill="#555" color="#555"  style="stroke-width:0.08px">6</text>
<line x1="250.70" y1="340.90" x2="252.30" y2="340.90" stroke="#a2a2a2" stroke-width="0.7" />
<text transform="translate(249.70,340.90) rotate(-90)" font-size="3.3" text-anchor="middle" fill="#555" color="#555"  style="stroke-width:0.08px">4</text>
<line x1="250.70" y1="353.40" x2="252.30" y2="353.40" stroke="#a2a2a2" stroke-width="0.7" />
<text transform="translate(249.70,353.40) rotate(-90)" font-size="3.3" text-anchor="middle" fill="#555" color="#555"  style="stroke-width:0.08px">2</text>
<line x1="250.70" y1="365.80" x2="252.30" y2="365.80" stroke="#a2a2a2" stroke-width="0.7" />
<text transform="translate(249.70,365.80) rotate(-90)" font-size="3.3" text-anchor="middle" fill="#555" color="#555"  style="stroke-width:0.08px">0</text>
<line x1="250.70" y1="378.50" x2="252.30" y2="378.50" stroke="#a2a2a2" stroke-width="0.7" />
<text transform="translate(249.70,378.50) rotate(-90)" font-size="3.3" text-anchor="middle" fill="#555" color="#555"  style="stroke-width:0.08px">-2</text>
<line x1="250.70" y1="390.90" x2="252.30" y2="390.90" stroke="#a2a2a2" stroke-width="0.7" />
<text transform="translate(249.70,390.90) rotate(-90)" font-size="3.3" text-anchor="middle" fill="#555" color="#555"  style="stroke-width:0.08px">-4</text>
<line x1="266.40" y1="399.40" x2="266.40" y2="400.90" stroke="#a2a2a2" stroke-width="0.7" />
<line x1="288.20" y1="399.40" x2="288.20" y2="400.90" stroke="#a2a2a2" stroke-width="0.7" />
<line x1="310.20" y1="399.40" x2="310.20" y2="400.90" stroke="#a2a2a2" stroke-width="0.7" />
<line x1="331.90" y1="399.40" x2="331.90" y2="400.90" stroke="#a2a2a2" stroke-width="0.7" />
<text transform="translate(240.40,362.60) rotate(-90)" font-size="4.45" text-anchor="middle" fill="#222" color="#222"  style="stroke-width:0.15px">Macrophage Functions score</text>
<line x1="266.45" y1="377.90" x2="266.45" y2="380.80" stroke="#d6d6d6" stroke-width="0.7" />
<line x1="261.98" y1="377.90" x2="270.92" y2="377.90" stroke="#d6d6d6" stroke-width="0.7" />
<line x1="266.45" y1="388.60" x2="266.45" y2="392.70" stroke="#d6d6d6" stroke-width="0.7" />
<line x1="261.98" y1="392.70" x2="270.92" y2="392.70" stroke="#d6d6d6" stroke-width="0.7" />
<rect x="257.50" y="380.80" width="17.90" height="7.80" fill="none" stroke="#cdcdcd" stroke-width="0.8"/>
<line x1="257.50" y1="384.60" x2="275.40" y2="384.60" stroke="#9c9c9c" stroke-width="1.15" />
<circle cx="266.40" cy="377.90" r="1.0" fill="#ff5a5a"/>
<circle cx="264.70" cy="384.60" r="1.0" fill="#ff5a5a"/>
<circle cx="268.00" cy="392.70" r="1.0" fill="#ff5a5a"/>
<line x1="288.20" y1="373.40" x2="288.20" y2="374.70" stroke="#d6d6d6" stroke-width="0.7" />
<line x1="283.70" y1="373.40" x2="292.70" y2="373.40" stroke="#d6d6d6" stroke-width="0.7" />
<line x1="288.20" y1="378.50" x2="288.20" y2="381.40" stroke="#d6d6d6" stroke-width="0.7" />
<line x1="283.70" y1="381.40" x2="292.70" y2="381.40" stroke="#d6d6d6" stroke-width="0.7" />
<rect x="279.20" y="374.70" width="18.00" height="3.80" fill="none" stroke="#cdcdcd" stroke-width="0.8"/>
<line x1="279.20" y1="375.80" x2="297.20" y2="375.80" stroke="#9c9c9c" stroke-width="1.15" />
<circle cx="286.00" cy="373.40" r="1.0" fill="#555548"/>
<circle cx="285.30" cy="375.80" r="1.0" fill="#555548"/>
<circle cx="289.80" cy="381.40" r="1.0" fill="#555548"/>
<line x1="309.95" y1="355.40" x2="309.95" y2="357.20" stroke="#d6d6d6" stroke-width="0.7" />
<line x1="305.48" y1="355.40" x2="314.42" y2="355.40" stroke="#d6d6d6" stroke-width="0.7" />
<line x1="309.95" y1="361.30" x2="309.95" y2="363.30" stroke="#d6d6d6" stroke-width="0.7" />
<line x1="305.48" y1="363.30" x2="314.42" y2="363.30" stroke="#d6d6d6" stroke-width="0.7" />
<rect x="301.00" y="357.20" width="17.90" height="4.10" fill="none" stroke="#cdcdcd" stroke-width="0.8"/>
<line x1="301.00" y1="359.50" x2="318.90" y2="359.50" stroke="#9c9c9c" stroke-width="1.15" />
<circle cx="313.50" cy="355.40" r="1.0" fill="#22c8c8"/>
<circle cx="312.80" cy="359.50" r="1.0" fill="#22c8c8"/>
<circle cx="312.80" cy="363.30" r="1.0" fill="#22c8c8"/>
<line x1="331.65" y1="329.20" x2="331.65" y2="334.40" stroke="#d6d6d6" stroke-width="0.7" />
<line x1="327.27" y1="329.20" x2="336.02" y2="329.20" stroke="#d6d6d6" stroke-width="0.7" />
<line x1="331.65" y1="347.80" x2="331.65" y2="354.60" stroke="#d6d6d6" stroke-width="0.7" />
<line x1="327.27" y1="354.60" x2="336.02" y2="354.60" stroke="#d6d6d6" stroke-width="0.7" />
<rect x="322.90" y="334.40" width="17.50" height="13.40" fill="none" stroke="#cdcdcd" stroke-width="0.8"/>
<line x1="322.90" y1="338.90" x2="340.40" y2="338.90" stroke="#9c9c9c" stroke-width="1.15" />
<circle cx="334.60" cy="329.20" r="1.0" fill="#8a3ff0"/>
<circle cx="330.30" cy="338.90" r="1.0" fill="#8a3ff0"/>
<circle cx="329.70" cy="354.60" r="1.0" fill="#8a3ff0"/>
<text x="65.80" y="426.20" font-size="9.9" text-anchor="middle" fill="#111" color="#111" style="stroke-width:0.38px" >Interleukins</text>
<rect x="16.80" y="432.10" width="95.00" height="74.20" fill="none" stroke="#a2a2a2" stroke-width="1"/>
<line x1="15.20" y1="450.90" x2="16.80" y2="450.90" stroke="#a2a2a2" stroke-width="0.7" />
<text transform="translate(14.20,450.90) rotate(-90)" font-size="3.3" text-anchor="middle" fill="#555" color="#555"  style="stroke-width:0.08px">5</text>
<line x1="15.20" y1="471.20" x2="16.80" y2="471.20" stroke="#a2a2a2" stroke-width="0.7" />
<text transform="translate(14.20,471.20) rotate(-90)" font-size="3.3" text-anchor="middle" fill="#555" color="#555"  style="stroke-width:0.08px">0</text>
<line x1="15.20" y1="491.30" x2="16.80" y2="491.30" stroke="#a2a2a2" stroke-width="0.7" />
<text transform="translate(14.20,491.30) rotate(-90)" font-size="3.3" text-anchor="middle" fill="#555" color="#555"  style="stroke-width:0.08px">-5</text>
<line x1="31.50" y1="506.30" x2="31.50" y2="507.80" stroke="#a2a2a2" stroke-width="0.7" />
<line x1="53.30" y1="506.30" x2="53.30" y2="507.80" stroke="#a2a2a2" stroke-width="0.7" />
<line x1="75.20" y1="506.30" x2="75.20" y2="507.80" stroke="#a2a2a2" stroke-width="0.7" />
<line x1="97.20" y1="506.30" x2="97.20" y2="507.80" stroke="#a2a2a2" stroke-width="0.7" />
<text transform="translate(5.50,470.00) rotate(-90)" font-size="4.45" text-anchor="middle" fill="#222" color="#222"  style="stroke-width:0.15px">Interleukins score</text>
<line x1="31.65" y1="482.40" x2="31.65" y2="485.90" stroke="#d6d6d6" stroke-width="0.7" />
<line x1="27.02" y1="482.40" x2="36.27" y2="482.40" stroke="#d6d6d6" stroke-width="0.7" />
<line x1="31.65" y1="495.30" x2="31.65" y2="501.10" stroke="#d6d6d6" stroke-width="0.7" />
<line x1="27.02" y1="501.10" x2="36.27" y2="501.10" stroke="#d6d6d6" stroke-width="0.7" />
<rect x="22.40" y="485.90" width="18.50" height="9.40" fill="none" stroke="#cdcdcd" stroke-width="0.8"/>
<line x1="22.40" y1="490.10" x2="40.90" y2="490.10" stroke="#9c9c9c" stroke-width="1.15" />
<circle cx="31.10" cy="482.40" r="1.0" fill="#ff5a5a"/>
<circle cx="32.70" cy="490.10" r="1.0" fill="#ff5a5a"/>
<circle cx="28.00" cy="501.10" r="1.0" fill="#ff5a5a"/>
<line x1="53.50" y1="478.90" x2="53.50" y2="482.00" stroke="#d6d6d6" stroke-width="0.7" />
<line x1="48.95" y1="478.90" x2="58.05" y2="478.90" stroke="#d6d6d6" stroke-width="0.7" />
<line x1="53.50" y1="486.60" x2="53.50" y2="488.30" stroke="#d6d6d6" stroke-width="0.7" />
<line x1="48.95" y1="488.30" x2="58.05" y2="488.30" stroke="#d6d6d6" stroke-width="0.7" />
<rect x="44.40" y="482.00" width="18.20" height="4.60" fill="none" stroke="#cdcdcd" stroke-width="0.8"/>
<line x1="44.40" y1="485.20" x2="62.60" y2="485.20" stroke="#9c9c9c" stroke-width="1.15" />
<circle cx="53.70" cy="478.90" r="1.0" fill="#555548"/>
<circle cx="52.60" cy="485.20" r="1.0" fill="#555548"/>
<circle cx="54.90" cy="488.30" r="1.0" fill="#555548"/>
<line x1="75.10" y1="453.20" x2="75.10" y2="459.80" stroke="#d6d6d6" stroke-width="0.7" />
<line x1="70.60" y1="453.20" x2="79.60" y2="453.20" stroke="#d6d6d6" stroke-width="0.7" />
<rect x="66.10" y="459.80" width="18.00" height="7.40" fill="none" stroke="#cdcdcd" stroke-width="0.8"/>
<line x1="66.10" y1="466.80" x2="84.10" y2="466.80" stroke="#9c9c9c" stroke-width="1.15" />
<circle cx="71.30" cy="453.20" r="1.0" fill="#22c8c8"/>
<circle cx="77.10" cy="467.20" r="1.0" fill="#22c8c8"/>
<circle cx="75.90" cy="466.50" r="1.0" fill="#22c8c8"/>
<line x1="97.05" y1="436.40" x2="97.05" y2="440.40" stroke="#d6d6d6" stroke-width="0.7" />
<line x1="92.67" y1="436.40" x2="101.42" y2="436.40" stroke="#d6d6d6" stroke-width="0.7" />
<line x1="97.05" y1="452.30" x2="97.05" y2="461.00" stroke="#d6d6d6" stroke-width="0.7" />
<line x1="92.67" y1="461.00" x2="101.42" y2="461.00" stroke="#d6d6d6" stroke-width="0.7" />
<rect x="88.30" y="440.40" width="17.50" height="11.90" fill="none" stroke="#cdcdcd" stroke-width="0.8"/>
<line x1="88.30" y1="443.40" x2="105.80" y2="443.40" stroke="#9c9c9c" stroke-width="1.15" />
<circle cx="98.60" cy="436.60" r="1.0" fill="#8a3ff0"/>
<circle cx="97.10" cy="443.40" r="1.0" fill="#8a3ff0"/>
<circle cx="96.10" cy="461.00" r="1.0" fill="#8a3ff0"/>
<text x="182.10" y="426.50" font-size="9.9" text-anchor="middle" fill="#111" color="#111" style="stroke-width:0.38px" >Adaptive</text>
<rect x="134.50" y="432.20" width="94.20" height="73.70" fill="none" stroke="#a2a2a2" stroke-width="1"/>
<line x1="132.90" y1="452.10" x2="134.50" y2="452.10" stroke="#a2a2a2" stroke-width="0.7" />
<text transform="translate(131.90,452.10) rotate(-90)" font-size="3.3" text-anchor="middle" fill="#555" color="#555"  style="stroke-width:0.08px">5</text>
<line x1="132.90" y1="473.10" x2="134.50" y2="473.10" stroke="#a2a2a2" stroke-width="0.7" />
<text transform="translate(131.90,473.10) rotate(-90)" font-size="3.3" text-anchor="middle" fill="#555" color="#555"  style="stroke-width:0.08px">0</text>
<line x1="132.90" y1="495.30" x2="134.50" y2="495.30" stroke="#a2a2a2" stroke-width="0.7" />
<text transform="translate(131.90,495.30) rotate(-90)" font-size="3.3" text-anchor="middle" fill="#555" color="#555"  style="stroke-width:0.08px">-5</text>
<line x1="149.00" y1="505.90" x2="149.00" y2="507.40" stroke="#a2a2a2" stroke-width="0.7" />
<line x1="170.50" y1="505.90" x2="170.50" y2="507.40" stroke="#a2a2a2" stroke-width="0.7" />
<line x1="192.80" y1="505.90" x2="192.80" y2="507.40" stroke="#a2a2a2" stroke-width="0.7" />
<line x1="213.90" y1="505.90" x2="213.90" y2="507.40" stroke="#a2a2a2" stroke-width="0.7" />
<text transform="translate(123.30,469.30) rotate(-90)" font-size="4.45" text-anchor="middle" fill="#222" color="#222"  style="stroke-width:0.15px">Adaptive score</text>
<line x1="149.10" y1="484.80" x2="149.10" y2="489.50" stroke="#d6d6d6" stroke-width="0.7" />
<line x1="144.70" y1="484.80" x2="153.50" y2="484.80" stroke="#d6d6d6" stroke-width="0.7" />
<line x1="149.10" y1="498.80" x2="149.10" y2="503.50" stroke="#d6d6d6" stroke-width="0.7" />
<line x1="144.70" y1="503.50" x2="153.50" y2="503.50" stroke="#d6d6d6" stroke-width="0.7" />
<rect x="140.30" y="489.50" width="17.60" height="9.30" fill="none" stroke="#cdcdcd" stroke-width="0.8"/>
<line x1="140.30" y1="493.00" x2="157.90" y2="493.00" stroke="#9c9c9c" stroke-width="1.15" />
<circle cx="144.50" cy="484.80" r="1.0" fill="#ff5a5a"/>
<circle cx="146.90" cy="493.00" r="1.0" fill="#ff5a5a"/>
<circle cx="145.30" cy="503.50" r="1.0" fill="#ff5a5a"/>
<line x1="170.50" y1="483.60" x2="170.50" y2="486.50" stroke="#d6d6d6" stroke-width="0.7" />
<line x1="165.95" y1="483.60" x2="175.05" y2="483.60" stroke="#d6d6d6" stroke-width="0.7" />
<line x1="170.50" y1="491.40" x2="170.50" y2="492.30" stroke="#d6d6d6" stroke-width="0.7" />
<line x1="165.95" y1="492.30" x2="175.05" y2="492.30" stroke="#d6d6d6" stroke-width="0.7" />
<rect x="161.40" y="486.50" width="18.20" height="4.90" fill="none" stroke="#cdcdcd" stroke-width="0.8"/>
<line x1="161.40" y1="490.20" x2="179.60" y2="490.20" stroke="#9c9c9c" stroke-width="1.15" />
<circle cx="172.60" cy="483.60" r="1.0" fill="#555548"/>
<circle cx="167.90" cy="490.20" r="1.0" fill="#555548"/>
<circle cx="173.30" cy="492.30" r="1.0" fill="#555548"/>
<line x1="192.80" y1="456.30" x2="192.80" y2="462.10" stroke="#d6d6d6" stroke-width="0.7" />
<line x1="188.30" y1="456.30" x2="197.30" y2="456.30" stroke="#d6d6d6" stroke-width="0.7" />
<line x1="192.80" y1="469.60" x2="192.80" y2="472.00" stroke="#d6d6d6" stroke-width="0.7" />
<line x1="188.30" y1="472.00" x2="197.30" y2="472.00" stroke="#d6d6d6" stroke-width="0.7" />
<rect x="183.80" y="462.10" width="18.00" height="7.50" fill="none" stroke="#cdcdcd" stroke-width="0.8"/>
<line x1="183.80" y1="466.80" x2="201.80" y2="466.80" stroke="#9c9c9c" stroke-width="1.15" />
<circle cx="196.70" cy="456.30" r="1.0" fill="#22c8c8"/>
<circle cx="193.20" cy="466.80" r="1.0" fill="#22c8c8"/>
<circle cx="188.30" cy="472.00" r="1.0" fill="#22c8c8"/>
<line x1="213.95" y1="437.60" x2="213.95" y2="440.40" stroke="#d6d6d6" stroke-width="0.7" />
<line x1="209.27" y1="437.60" x2="218.62" y2="437.60" stroke="#d6d6d6" stroke-width="0.7" />
<line x1="213.95" y1="452.10" x2="213.95" y2="459.10" stroke="#d6d6d6" stroke-width="0.7" />
<line x1="209.27" y1="459.10" x2="218.62" y2="459.10" stroke="#d6d6d6" stroke-width="0.7" />
<rect x="204.60" y="440.40" width="18.70" height="11.70" fill="none" stroke="#cdcdcd" stroke-width="0.8"/>
<line x1="204.60" y1="443.90" x2="223.30" y2="443.90" stroke="#9c9c9c" stroke-width="1.15" />
<circle cx="215.40" cy="437.60" r="1.0" fill="#8a3ff0"/>
<circle cx="210.70" cy="443.90" r="1.0" fill="#8a3ff0"/>
<circle cx="212.80" cy="459.10" r="1.0" fill="#8a3ff0"/>
<text x="300.80" y="426.00" font-size="9.9" text-anchor="middle" fill="#111" color="#111" style="stroke-width:0.38px" >T-cell functions</text>
<rect x="252.20" y="431.50" width="95.40" height="74.80" fill="none" stroke="#a2a2a2" stroke-width="1"/>
<line x1="250.60" y1="441.10" x2="252.20" y2="441.10" stroke="#a2a2a2" stroke-width="0.7" />
<text transform="translate(249.60,441.10) rotate(-90)" font-size="3.3" text-anchor="middle" fill="#555" color="#555"  style="stroke-width:0.08px">10</text>
<line x1="250.60" y1="457.50" x2="252.20" y2="457.50" stroke="#a2a2a2" stroke-width="0.7" />
<text transform="translate(249.60,457.50) rotate(-90)" font-size="3.3" text-anchor="middle" fill="#555" color="#555"  style="stroke-width:0.08px">5</text>
<line x1="250.60" y1="473.60" x2="252.20" y2="473.60" stroke="#a2a2a2" stroke-width="0.7" />
<text transform="translate(249.60,473.60) rotate(-90)" font-size="3.3" text-anchor="middle" fill="#555" color="#555"  style="stroke-width:0.08px">0</text>
<line x1="250.60" y1="490.20" x2="252.20" y2="490.20" stroke="#a2a2a2" stroke-width="0.7" />
<text transform="translate(249.60,490.20) rotate(-90)" font-size="3.3" text-anchor="middle" fill="#555" color="#555"  style="stroke-width:0.08px">-5</text>
<line x1="266.50" y1="506.30" x2="266.50" y2="507.80" stroke="#a2a2a2" stroke-width="0.7" />
<line x1="288.20" y1="506.30" x2="288.20" y2="507.80" stroke="#a2a2a2" stroke-width="0.7" />
<line x1="310.50" y1="506.30" x2="310.50" y2="507.80" stroke="#a2a2a2" stroke-width="0.7" />
<line x1="332.70" y1="506.30" x2="332.70" y2="507.80" stroke="#a2a2a2" stroke-width="0.7" />
<text transform="translate(240.60,469.00) rotate(-90)" font-size="4.45" text-anchor="middle" fill="#222" color="#222"  style="stroke-width:0.15px">T-Cell Functions score</text>
<line x1="266.50" y1="480.60" x2="266.50" y2="485.30" stroke="#d6d6d6" stroke-width="0.7" />
<line x1="262.00" y1="480.60" x2="271.00" y2="480.60" stroke="#d6d6d6" stroke-width="0.7" />
<line x1="266.50" y1="495.30" x2="266.50" y2="501.70" stroke="#d6d6d6" stroke-width="0.7" />
<line x1="262.00" y1="501.70" x2="271.00" y2="501.70" stroke="#d6d6d6" stroke-width="0.7" />
<rect x="257.50" y="485.30" width="18.00" height="10.00" fill="none" stroke="#cdcdcd" stroke-width="0.8"/>
<line x1="257.50" y1="489.50" x2="275.50" y2="489.50" stroke="#9c9c9c" stroke-width="1.15" />
<circle cx="263.40" cy="480.60" r="1.0" fill="#ff5a5a"/>
<circle cx="266.90" cy="489.50" r="1.0" fill="#ff5a5a"/>
<circle cx="266.20" cy="501.70" r="1.0" fill="#ff5a5a"/>
<line x1="288.15" y1="481.80" x2="288.15" y2="486.50" stroke="#d6d6d6" stroke-width="0.7" />
<line x1="283.57" y1="481.80" x2="292.72" y2="481.80" stroke="#d6d6d6" stroke-width="0.7" />
<rect x="279.00" y="486.50" width="18.30" height="5.80" fill="none" stroke="#cdcdcd" stroke-width="0.8"/>
<line x1="279.00" y1="491.80" x2="297.30" y2="491.80" stroke="#9c9c9c" stroke-width="1.15" />
<circle cx="284.40" cy="481.80" r="1.0" fill="#555548"/>
<circle cx="288.00" cy="491.80" r="1.0" fill="#555548"/>
<line x1="310.50" y1="467.30" x2="310.50" y2="470.30" stroke="#d6d6d6" stroke-width="0.7" />
<line x1="306.00" y1="467.30" x2="315.00" y2="467.30" stroke="#d6d6d6" stroke-width="0.7" />
<rect x="301.50" y="470.30" width="18.00" height="2.10" fill="none" stroke="#cdcdcd" stroke-width="0.8"/>
<line x1="301.50" y1="471.50" x2="319.50" y2="471.50" stroke="#9c9c9c" stroke-width="1.15" />
<circle cx="309.40" cy="467.30" r="1.0" fill="#22c8c8"/>
<circle cx="307.10" cy="472.00" r="1.0" fill="#22c8c8"/>
<circle cx="313.60" cy="472.00" r="1.0" fill="#22c8c8"/>
<line x1="332.70" y1="436.90" x2="332.70" y2="441.10" stroke="#d6d6d6" stroke-width="0.7" />
<line x1="328.20" y1="436.90" x2="337.20" y2="436.90" stroke="#d6d6d6" stroke-width="0.7" />
<line x1="332.70" y1="450.90" x2="332.70" y2="455.60" stroke="#d6d6d6" stroke-width="0.7" />
<line x1="328.20" y1="455.60" x2="337.20" y2="455.60" stroke="#d6d6d6" stroke-width="0.7" />
<rect x="323.70" y="441.10" width="18.00" height="9.80" fill="none" stroke="#cdcdcd" stroke-width="0.8"/>
<line x1="323.70" y1="446.20" x2="341.70" y2="446.20" stroke="#9c9c9c" stroke-width="1.15" />
<circle cx="333.50" cy="436.90" r="1.0" fill="#8a3ff0"/>
<circle cx="336.60" cy="446.20" r="1.0" fill="#8a3ff0"/>
<circle cx="328.80" cy="455.60" r="1.0" fill="#8a3ff0"/>
<text x="27.70" y="520.00" font-size="7.7" text-anchor="middle" fill="#ff2020" color="#ff2020" style="stroke-width:0.29px" >ctrl</text>
<text x="50.00" y="520.00" font-size="7.7" text-anchor="middle" fill="#555555" color="#555555" style="stroke-width:0.29px" >XRT</text>
<text x="76.00" y="520.00" font-size="7.7" text-anchor="middle" fill="#19d4e0" color="#19d4e0" style="stroke-width:0.29px" >XRT</text>
<text x="76.00" y="529.50" font-size="7.7" text-anchor="middle" fill="#19d4e0" color="#19d4e0" style="stroke-width:0.29px" >+NLRP3</text>
<text x="104.00" y="520.00" font-size="7.7" text-anchor="middle" fill="#7a30c8" color="#7a30c8" style="stroke-width:0.29px" >Triple</text>
<text x="144.60" y="521.20" font-size="7.7" text-anchor="middle" fill="#ff2020" color="#ff2020" style="stroke-width:0.29px" >ctrl</text>
<text x="167.30" y="521.20" font-size="7.7" text-anchor="middle" fill="#555555" color="#555555" style="stroke-width:0.29px" >XRT</text>
<text x="193.60" y="521.20" font-size="7.7" text-anchor="middle" fill="#19d4e0" color="#19d4e0" style="stroke-width:0.29px" >XRT</text>
<text x="193.60" y="531.40" font-size="7.7" text-anchor="middle" fill="#19d4e0" color="#19d4e0" style="stroke-width:0.29px" >+NLRP3</text>
<text x="221.10" y="521.20" font-size="7.7" text-anchor="middle" fill="#7a30c8" color="#7a30c8" style="stroke-width:0.29px" >Triple</text>
<text x="261.80" y="520.90" font-size="7.7" text-anchor="middle" fill="#ff2020" color="#ff2020" style="stroke-width:0.29px" >ctrl</text>
<text x="283.40" y="520.90" font-size="7.7" text-anchor="middle" fill="#555555" color="#555555" style="stroke-width:0.29px" >XRT</text>
<text x="310.40" y="520.90" font-size="7.7" text-anchor="middle" fill="#19d4e0" color="#19d4e0" style="stroke-width:0.29px" >XRT</text>
<text x="310.40" y="531.00" font-size="7.7" text-anchor="middle" fill="#19d4e0" color="#19d4e0" style="stroke-width:0.29px" >+NLRP3</text>
<text x="337.70" y="520.90" font-size="7.7" text-anchor="middle" fill="#7a30c8" color="#7a30c8" style="stroke-width:0.29px" >Triple</text>
<text x="439.00" y="313.90" font-size="9.9" text-anchor="middle" fill="#111" color="#111" style="stroke-width:0.38px" >Innate</text>
<rect x="390.30" y="324.10" width="96.90" height="77.00" fill="none" stroke="#a2a2a2" stroke-width="1"/>
<line x1="388.70" y1="333.30" x2="390.30" y2="333.30" stroke="#a2a2a2" stroke-width="0.7" />
<text transform="translate(387.70,333.30) rotate(-90)" font-size="3.3" text-anchor="middle" fill="#555" color="#555"  style="stroke-width:0.08px">4</text>
<line x1="388.70" y1="343.90" x2="390.30" y2="343.90" stroke="#a2a2a2" stroke-width="0.7" />
<text transform="translate(387.70,343.90) rotate(-90)" font-size="3.3" text-anchor="middle" fill="#555" color="#555"  style="stroke-width:0.08px">2</text>
<line x1="388.70" y1="355.10" x2="390.30" y2="355.10" stroke="#a2a2a2" stroke-width="0.7" />
<text transform="translate(387.70,355.10) rotate(-90)" font-size="3.3" text-anchor="middle" fill="#555" color="#555"  style="stroke-width:0.08px">0</text>
<line x1="388.70" y1="365.90" x2="390.30" y2="365.90" stroke="#a2a2a2" stroke-width="0.7" />
<text transform="translate(387.70,365.90) rotate(-90)" font-size="3.3" text-anchor="middle" fill="#555" color="#555"  style="stroke-width:0.08px">-2</text>
<line x1="388.70" y1="377.10" x2="390.30" y2="377.10" stroke="#a2a2a2" stroke-width="0.7" />
<text transform="translate(387.70,377.10) rotate(-90)" font-size="3.3" text-anchor="middle" fill="#555" color="#555"  style="stroke-width:0.08px">-4</text>
<line x1="388.70" y1="387.60" x2="390.30" y2="387.60" stroke="#a2a2a2" stroke-width="0.7" />
<text transform="translate(387.70,387.60) rotate(-90)" font-size="3.3" text-anchor="middle" fill="#555" color="#555"  style="stroke-width:0.08px">-6</text>
<line x1="388.70" y1="398.80" x2="390.30" y2="398.80" stroke="#a2a2a2" stroke-width="0.7" />
<text transform="translate(387.70,398.80) rotate(-90)" font-size="3.3" text-anchor="middle" fill="#555" color="#555"  style="stroke-width:0.08px">-8</text>
<line x1="405.30" y1="401.10" x2="405.30" y2="402.60" stroke="#a2a2a2" stroke-width="0.7" />
<line x1="427.70" y1="401.10" x2="427.70" y2="402.60" stroke="#a2a2a2" stroke-width="0.7" />
<line x1="449.70" y1="401.10" x2="449.70" y2="402.60" stroke="#a2a2a2" stroke-width="0.7" />
<line x1="472.00" y1="401.10" x2="472.00" y2="402.60" stroke="#a2a2a2" stroke-width="0.7" />
<text transform="translate(379.40,363.40) rotate(-90)" font-size="4.45" text-anchor="middle" fill="#222" color="#222"  style="stroke-width:0.15px">Innate score</text>
<line x1="405.40" y1="371.90" x2="405.40" y2="379.10" stroke="#d6d6d6" stroke-width="0.7" />
<line x1="400.65" y1="371.90" x2="410.15" y2="371.90" stroke="#d6d6d6" stroke-width="0.7" />
<line x1="405.40" y1="390.50" x2="405.40" y2="393.90" stroke="#d6d6d6" stroke-width="0.7" />
<line x1="400.65" y1="393.90" x2="410.15" y2="393.90" stroke="#d6d6d6" stroke-width="0.7" />
<rect x="395.90" y="379.10" width="19.00" height="11.40" fill="none" stroke="#cdcdcd" stroke-width="0.8"/>
<line x1="395.90" y1="386.90" x2="414.90" y2="386.90" stroke="#9c9c9c" stroke-width="1.15" />
<circle cx="404.20" cy="371.90" r="1.0" fill="#ff5a5a"/>
<circle cx="401.50" cy="386.90" r="1.0" fill="#ff5a5a"/>
<circle cx="408.20" cy="393.90" r="1.0" fill="#ff5a5a"/>
<line x1="428.00" y1="352.80" x2="428.00" y2="358.00" stroke="#d6d6d6" stroke-width="0.7" />
<line x1="423.40" y1="352.80" x2="432.60" y2="352.80" stroke="#d6d6d6" stroke-width="0.7" />
<rect x="418.80" y="358.00" width="18.40" height="6.70" fill="none" stroke="#cdcdcd" stroke-width="0.8"/>
<line x1="418.80" y1="364.50" x2="437.20" y2="364.50" stroke="#9c9c9c" stroke-width="1.15" />
<circle cx="427.70" cy="352.80" r="1.0" fill="#555548"/>
<circle cx="429.30" cy="364.50" r="1.0" fill="#555548"/>
<line x1="449.85" y1="332.00" x2="449.85" y2="335.60" stroke="#d6d6d6" stroke-width="0.7" />
<line x1="445.18" y1="332.00" x2="454.53" y2="332.00" stroke="#d6d6d6" stroke-width="0.7" />
<line x1="449.85" y1="347.70" x2="449.85" y2="354.60" stroke="#d6d6d6" stroke-width="0.7" />
<line x1="445.18" y1="354.60" x2="454.53" y2="354.60" stroke="#d6d6d6" stroke-width="0.7" />
<rect x="440.50" y="335.60" width="18.70" height="12.10" fill="none" stroke="#cdcdcd" stroke-width="0.8"/>
<line x1="440.50" y1="339.80" x2="459.20" y2="339.80" stroke="#9c9c9c" stroke-width="1.15" />
<circle cx="446.40" cy="332.00" r="1.0" fill="#22c8c8"/>
<circle cx="452.40" cy="339.80" r="1.0" fill="#22c8c8"/>
<circle cx="454.00" cy="354.60" r="1.0" fill="#22c8c8"/>
<line x1="472.40" y1="328.60" x2="472.40" y2="330.80" stroke="#d6d6d6" stroke-width="0.7" />
<line x1="467.80" y1="328.60" x2="477.00" y2="328.60" stroke="#d6d6d6" stroke-width="0.7" />
<line x1="472.40" y1="333.80" x2="472.40" y2="337.10" stroke="#d6d6d6" stroke-width="0.7" />
<line x1="467.80" y1="337.10" x2="477.00" y2="337.10" stroke="#d6d6d6" stroke-width="0.7" />
<rect x="463.20" y="330.80" width="18.40" height="3.00" fill="none" stroke="#cdcdcd" stroke-width="0.8"/>
<line x1="463.20" y1="332.20" x2="481.60" y2="332.20" stroke="#9c9c9c" stroke-width="1.15" />
<circle cx="475.30" cy="328.60" r="1.0" fill="#8a3ff0"/>
<circle cx="471.00" cy="332.20" r="1.0" fill="#8a3ff0"/>
<circle cx="473.70" cy="337.10" r="1.0" fill="#8a3ff0"/>
<text x="563.00" y="314.90" font-size="9.9" text-anchor="middle" fill="#111" color="#111" style="stroke-width:0.38px" >Antigen</text>
<rect x="513.60" y="324.10" width="97.00" height="77.00" fill="none" stroke="#a2a2a2" stroke-width="1"/>
<line x1="512.00" y1="327.70" x2="513.60" y2="327.70" stroke="#a2a2a2" stroke-width="0.7" />
<text transform="translate(511.00,327.70) rotate(-90)" font-size="3.3" text-anchor="middle" fill="#555" color="#555"  style="stroke-width:0.08px">3</text>
<line x1="512.00" y1="339.40" x2="513.60" y2="339.40" stroke="#a2a2a2" stroke-width="0.7" />
<text transform="translate(511.00,339.40) rotate(-90)" font-size="3.3" text-anchor="middle" fill="#555" color="#555"  style="stroke-width:0.08px">2</text>
<line x1="512.00" y1="351.00" x2="513.60" y2="351.00" stroke="#a2a2a2" stroke-width="0.7" />
<text transform="translate(511.00,351.00) rotate(-90)" font-size="3.3" text-anchor="middle" fill="#555" color="#555"  style="stroke-width:0.08px">1</text>
<line x1="512.00" y1="362.90" x2="513.60" y2="362.90" stroke="#a2a2a2" stroke-width="0.7" />
<text transform="translate(511.00,362.90) rotate(-90)" font-size="3.3" text-anchor="middle" fill="#555" color="#555"  style="stroke-width:0.08px">0</text>
<line x1="512.00" y1="374.80" x2="513.60" y2="374.80" stroke="#a2a2a2" stroke-width="0.7" />
<text transform="translate(511.00,374.80) rotate(-90)" font-size="3.3" text-anchor="middle" fill="#555" color="#555"  style="stroke-width:0.08px">-1</text>
<line x1="512.00" y1="386.90" x2="513.60" y2="386.90" stroke="#a2a2a2" stroke-width="0.7" />
<text transform="translate(511.00,386.90) rotate(-90)" font-size="3.3" text-anchor="middle" fill="#555" color="#555"  style="stroke-width:0.08px">-2</text>
<line x1="512.00" y1="398.80" x2="513.60" y2="398.80" stroke="#a2a2a2" stroke-width="0.7" />
<text transform="translate(511.00,398.80) rotate(-90)" font-size="3.3" text-anchor="middle" fill="#555" color="#555"  style="stroke-width:0.08px">-3</text>
<line x1="528.20" y1="401.10" x2="528.20" y2="402.60" stroke="#a2a2a2" stroke-width="0.7" />
<line x1="550.70" y1="401.10" x2="550.70" y2="402.60" stroke="#a2a2a2" stroke-width="0.7" />
<line x1="573.10" y1="401.10" x2="573.10" y2="402.60" stroke="#a2a2a2" stroke-width="0.7" />
<line x1="595.50" y1="401.10" x2="595.50" y2="402.60" stroke="#a2a2a2" stroke-width="0.7" />
<text transform="translate(502.30,363.00) rotate(-90)" font-size="4.45" text-anchor="middle" fill="#222" color="#222"  style="stroke-width:0.15px">Antigen Processing score</text>
<line x1="528.65" y1="370.10" x2="528.65" y2="382.00" stroke="#d6d6d6" stroke-width="0.7" />
<line x1="524.18" y1="370.10" x2="533.13" y2="370.10" stroke="#d6d6d6" stroke-width="0.7" />
<rect x="519.70" y="382.00" width="17.90" height="12.80" fill="none" stroke="#cdcdcd" stroke-width="0.8"/>
<line x1="519.70" y1="393.90" x2="537.60" y2="393.90" stroke="#9c9c9c" stroke-width="1.15" />
<circle cx="527.50" cy="370.10" r="1.0" fill="#ff5a5a"/>
<circle cx="526.90" cy="394.40" r="1.0" fill="#ff5a5a"/>
<circle cx="526.00" cy="395.80" r="1.0" fill="#ff5a5a"/>
<line x1="550.90" y1="355.10" x2="550.90" y2="360.20" stroke="#d6d6d6" stroke-width="0.7" />
<line x1="546.30" y1="355.10" x2="555.50" y2="355.10" stroke="#d6d6d6" stroke-width="0.7" />
<line x1="550.90" y1="369.20" x2="550.90" y2="373.50" stroke="#d6d6d6" stroke-width="0.7" />
<line x1="546.30" y1="373.50" x2="555.50" y2="373.50" stroke="#d6d6d6" stroke-width="0.7" />
<rect x="541.70" y="360.20" width="18.40" height="9.00" fill="none" stroke="#cdcdcd" stroke-width="0.8"/>
<line x1="541.70" y1="364.70" x2="560.10" y2="364.70" stroke="#9c9c9c" stroke-width="1.15" />
<circle cx="549.30" cy="355.10" r="1.0" fill="#555548"/>
<circle cx="552.20" cy="364.70" r="1.0" fill="#555548"/>
<circle cx="554.50" cy="373.50" r="1.0" fill="#555548"/>
<line x1="573.30" y1="338.20" x2="573.30" y2="347.90" stroke="#d6d6d6" stroke-width="0.7" />
<line x1="568.70" y1="338.20" x2="577.90" y2="338.20" stroke="#d6d6d6" stroke-width="0.7" />
<line x1="573.30" y1="365.20" x2="573.30" y2="373.00" stroke="#d6d6d6" stroke-width="0.7" />
<line x1="568.70" y1="373.00" x2="577.90" y2="373.00" stroke="#d6d6d6" stroke-width="0.7" />
<rect x="564.10" y="347.90" width="18.40" height="17.30" fill="none" stroke="#cdcdcd" stroke-width="0.8"/>
<line x1="564.10" y1="357.30" x2="582.50" y2="357.30" stroke="#9c9c9c" stroke-width="1.15" />
<circle cx="571.80" cy="338.20" r="1.0" fill="#22c8c8"/>
<circle cx="575.30" cy="357.30" r="1.0" fill="#22c8c8"/>
<circle cx="576.90" cy="373.00" r="1.0" fill="#22c8c8"/>
<line x1="596.00" y1="339.80" x2="596.00" y2="343.20" stroke="#d6d6d6" stroke-width="0.7" />
<line x1="591.50" y1="339.80" x2="600.50" y2="339.80" stroke="#d6d6d6" stroke-width="0.7" />
<line x1="596.00" y1="346.80" x2="596.00" y2="348.30" stroke="#d6d6d6" stroke-width="0.7" />
<line x1="591.50" y1="348.30" x2="600.50" y2="348.30" stroke="#d6d6d6" stroke-width="0.7" />
<rect x="587.00" y="343.20" width="18.00" height="3.60" fill="none" stroke="#cdcdcd" stroke-width="0.8"/>
<line x1="587.00" y1="346.10" x2="605.00" y2="346.10" stroke="#9c9c9c" stroke-width="1.15" />
<circle cx="598.90" cy="340.20" r="1.0" fill="#8a3ff0"/>
<circle cx="595.30" cy="346.10" r="1.0" fill="#8a3ff0"/>
<circle cx="593.10" cy="348.80" r="1.0" fill="#8a3ff0"/>
<text x="691.20" y="313.90" font-size="9.9" text-anchor="middle" fill="#111" color="#111" style="stroke-width:0.38px" >Macrophage</text>
<rect x="641.70" y="325.40" width="97.10" height="76.70" fill="none" stroke="#a2a2a2" stroke-width="1"/>
<line x1="640.10" y1="328.60" x2="641.70" y2="328.60" stroke="#a2a2a2" stroke-width="0.7" />
<text transform="translate(639.10,328.60) rotate(-90)" font-size="3.3" text-anchor="middle" fill="#555" color="#555"  style="stroke-width:0.08px">3</text>
<line x1="640.10" y1="338.90" x2="641.70" y2="338.90" stroke="#a2a2a2" stroke-width="0.7" />
<text transform="translate(639.10,338.90) rotate(-90)" font-size="3.3" text-anchor="middle" fill="#555" color="#555"  style="stroke-width:0.08px">2</text>
<line x1="640.10" y1="349.00" x2="641.70" y2="349.00" stroke="#a2a2a2" stroke-width="0.7" />
<text transform="translate(639.10,349.00) rotate(-90)" font-size="3.3" text-anchor="middle" fill="#555" color="#555"  style="stroke-width:0.08px">1</text>
<line x1="640.10" y1="359.00" x2="641.70" y2="359.00" stroke="#a2a2a2" stroke-width="0.7" />
<text transform="translate(639.10,359.00) rotate(-90)" font-size="3.3" text-anchor="middle" fill="#555" color="#555"  style="stroke-width:0.08px">0</text>
<line x1="640.10" y1="369.10" x2="641.70" y2="369.10" stroke="#a2a2a2" stroke-width="0.7" />
<text transform="translate(639.10,369.10) rotate(-90)" font-size="3.3" text-anchor="middle" fill="#555" color="#555"  style="stroke-width:0.08px">-1</text>
<line x1="640.10" y1="379.20" x2="641.70" y2="379.20" stroke="#a2a2a2" stroke-width="0.7" />
<text transform="translate(639.10,379.20) rotate(-90)" font-size="3.3" text-anchor="middle" fill="#555" color="#555"  style="stroke-width:0.08px">-2</text>
<line x1="640.10" y1="389.30" x2="641.70" y2="389.30" stroke="#a2a2a2" stroke-width="0.7" />
<text transform="translate(639.10,389.30) rotate(-90)" font-size="3.3" text-anchor="middle" fill="#555" color="#555"  style="stroke-width:0.08px">-3</text>
<line x1="640.10" y1="399.80" x2="641.70" y2="399.80" stroke="#a2a2a2" stroke-width="0.7" />
<text transform="translate(639.10,399.80) rotate(-90)" font-size="3.3" text-anchor="middle" fill="#555" color="#555"  style="stroke-width:0.08px">-4</text>
<line x1="656.50" y1="402.10" x2="656.50" y2="403.60" stroke="#a2a2a2" stroke-width="0.7" />
<line x1="679.40" y1="402.10" x2="679.40" y2="403.60" stroke="#a2a2a2" stroke-width="0.7" />
<line x1="701.40" y1="402.10" x2="701.40" y2="403.60" stroke="#a2a2a2" stroke-width="0.7" />
<line x1="724.20" y1="402.10" x2="724.20" y2="403.60" stroke="#a2a2a2" stroke-width="0.7" />
<text transform="translate(631.40,363.60) rotate(-90)" font-size="4.45" text-anchor="middle" fill="#222" color="#222"  style="stroke-width:0.15px">Macrophage Functions score</text>
<line x1="656.80" y1="372.50" x2="656.80" y2="381.40" stroke="#d6d6d6" stroke-width="0.7" />
<line x1="652.20" y1="372.50" x2="661.40" y2="372.50" stroke="#d6d6d6" stroke-width="0.7" />
<rect x="647.60" y="381.40" width="18.40" height="10.60" fill="none" stroke="#cdcdcd" stroke-width="0.8"/>
<line x1="647.60" y1="391.30" x2="666.00" y2="391.30" stroke="#9c9c9c" stroke-width="1.15" />
<circle cx="656.30" cy="372.50" r="1.0" fill="#ff5a5a"/>
<circle cx="657.70" cy="391.30" r="1.0" fill="#ff5a5a"/>
<circle cx="660.80" cy="393.60" r="1.0" fill="#ff5a5a"/>
<line x1="679.20" y1="356.80" x2="679.20" y2="361.30" stroke="#d6d6d6" stroke-width="0.7" />
<line x1="674.60" y1="356.80" x2="683.80" y2="356.80" stroke="#d6d6d6" stroke-width="0.7" />
<line x1="679.20" y1="368.40" x2="679.20" y2="371.10" stroke="#d6d6d6" stroke-width="0.7" />
<line x1="674.60" y1="371.10" x2="683.80" y2="371.10" stroke="#d6d6d6" stroke-width="0.7" />
<rect x="670.00" y="361.30" width="18.40" height="7.10" fill="none" stroke="#cdcdcd" stroke-width="0.8"/>
<line x1="670.00" y1="365.10" x2="688.40" y2="365.10" stroke="#9c9c9c" stroke-width="1.15" />
<circle cx="681.00" cy="356.80" r="1.0" fill="#555548"/>
<circle cx="674.90" cy="365.10" r="1.0" fill="#555548"/>
<circle cx="681.00" cy="371.10" r="1.0" fill="#555548"/>
<line x1="701.25" y1="342.00" x2="701.25" y2="343.80" stroke="#d6d6d6" stroke-width="0.7" />
<line x1="696.48" y1="342.00" x2="706.02" y2="342.00" stroke="#d6d6d6" stroke-width="0.7" />
<line x1="701.25" y1="350.10" x2="701.25" y2="355.70" stroke="#d6d6d6" stroke-width="0.7" />
<line x1="696.48" y1="355.70" x2="706.02" y2="355.70" stroke="#d6d6d6" stroke-width="0.7" />
<rect x="691.70" y="343.80" width="19.10" height="6.30" fill="none" stroke="#cdcdcd" stroke-width="0.8"/>
<line x1="691.70" y1="344.50" x2="710.80" y2="344.50" stroke="#9c9c9c" stroke-width="1.15" />
<circle cx="704.70" cy="342.00" r="1.0" fill="#22c8c8"/>
<circle cx="700.20" cy="344.50" r="1.0" fill="#22c8c8"/>
<circle cx="698.40" cy="355.70" r="1.0" fill="#22c8c8"/>
<line x1="724.25" y1="332.60" x2="724.25" y2="336.60" stroke="#d6d6d6" stroke-width="0.7" />
<line x1="719.77" y1="332.60" x2="728.73" y2="332.60" stroke="#d6d6d6" stroke-width="0.7" />
<rect x="715.30" y="336.60" width="17.90" height="5.00" fill="none" stroke="#cdcdcd" stroke-width="0.8"/>
<line x1="715.30" y1="340.40" x2="733.20" y2="340.40" stroke="#9c9c9c" stroke-width="1.15" />
<circle cx="725.30" cy="332.60" r="1.0" fill="#8a3ff0"/>
<circle cx="727.10" cy="340.40" r="1.0" fill="#8a3ff0"/>
<circle cx="725.80" cy="342.30" r="1.0" fill="#8a3ff0"/>
<text x="438.70" y="423.50" font-size="9.9" text-anchor="middle" fill="#111" color="#111" style="stroke-width:0.38px" >Interleukins</text>
<rect x="390.90" y="431.70" width="98.60" height="74.60" fill="none" stroke="#a2a2a2" stroke-width="1"/>
<line x1="389.30" y1="434.50" x2="390.90" y2="434.50" stroke="#a2a2a2" stroke-width="0.7" />
<text transform="translate(388.30,434.50) rotate(-90)" font-size="3.3" text-anchor="middle" fill="#555" color="#555"  style="stroke-width:0.08px">4</text>
<line x1="389.30" y1="448.60" x2="390.90" y2="448.60" stroke="#a2a2a2" stroke-width="0.7" />
<text transform="translate(388.30,448.60) rotate(-90)" font-size="3.3" text-anchor="middle" fill="#555" color="#555"  style="stroke-width:0.08px">2</text>
<line x1="389.30" y1="462.10" x2="390.90" y2="462.10" stroke="#a2a2a2" stroke-width="0.7" />
<text transform="translate(388.30,462.10) rotate(-90)" font-size="3.3" text-anchor="middle" fill="#555" color="#555"  style="stroke-width:0.08px">0</text>
<line x1="389.30" y1="475.90" x2="390.90" y2="475.90" stroke="#a2a2a2" stroke-width="0.7" />
<text transform="translate(388.30,475.90) rotate(-90)" font-size="3.3" text-anchor="middle" fill="#555" color="#555"  style="stroke-width:0.08px">-2</text>
<line x1="389.30" y1="489.40" x2="390.90" y2="489.40" stroke="#a2a2a2" stroke-width="0.7" />
<text transform="translate(388.30,489.40) rotate(-90)" font-size="3.3" text-anchor="middle" fill="#555" color="#555"  style="stroke-width:0.08px">-4</text>
<line x1="389.30" y1="503.50" x2="390.90" y2="503.50" stroke="#a2a2a2" stroke-width="0.7" />
<text transform="translate(388.30,503.50) rotate(-90)" font-size="3.3" text-anchor="middle" fill="#555" color="#555"  style="stroke-width:0.08px">-6</text>
<line x1="406.30" y1="506.30" x2="406.30" y2="507.80" stroke="#a2a2a2" stroke-width="0.7" />
<line x1="428.80" y1="506.30" x2="428.80" y2="507.80" stroke="#a2a2a2" stroke-width="0.7" />
<line x1="451.80" y1="506.30" x2="451.80" y2="507.80" stroke="#a2a2a2" stroke-width="0.7" />
<line x1="475.20" y1="506.30" x2="475.20" y2="507.80" stroke="#a2a2a2" stroke-width="0.7" />
<text transform="translate(379.80,468.40) rotate(-90)" font-size="4.45" text-anchor="middle" fill="#222" color="#222"  style="stroke-width:0.15px">Interleukins score</text>
<line x1="406.30" y1="478.90" x2="406.30" y2="483.10" stroke="#d6d6d6" stroke-width="0.7" />
<line x1="401.50" y1="478.90" x2="411.10" y2="478.90" stroke="#d6d6d6" stroke-width="0.7" />
<line x1="406.30" y1="492.50" x2="406.30" y2="497.10" stroke="#d6d6d6" stroke-width="0.7" />
<line x1="401.50" y1="497.10" x2="411.10" y2="497.10" stroke="#d6d6d6" stroke-width="0.7" />
<rect x="396.70" y="483.10" width="19.20" height="9.40" fill="none" stroke="#cdcdcd" stroke-width="0.8"/>
<line x1="396.70" y1="487.10" x2="415.90" y2="487.10" stroke="#9c9c9c" stroke-width="1.15" />
<circle cx="406.50" cy="478.90" r="1.0" fill="#ff5a5a"/>
<circle cx="407.20" cy="487.10" r="1.0" fill="#ff5a5a"/>
<circle cx="403.00" cy="497.10" r="1.0" fill="#ff5a5a"/>
<line x1="429.00" y1="457.90" x2="429.00" y2="464.40" stroke="#d6d6d6" stroke-width="0.7" />
<line x1="424.20" y1="457.90" x2="433.80" y2="457.90" stroke="#d6d6d6" stroke-width="0.7" />
<line x1="429.00" y1="472.60" x2="429.00" y2="474.30" stroke="#d6d6d6" stroke-width="0.7" />
<line x1="424.20" y1="474.30" x2="433.80" y2="474.30" stroke="#d6d6d6" stroke-width="0.7" />
<rect x="419.40" y="464.40" width="19.20" height="8.20" fill="none" stroke="#cdcdcd" stroke-width="0.8"/>
<line x1="419.40" y1="471.40" x2="438.60" y2="471.40" stroke="#9c9c9c" stroke-width="1.15" />
<circle cx="428.30" cy="457.90" r="1.0" fill="#555548"/>
<circle cx="430.40" cy="471.40" r="1.0" fill="#555548"/>
<circle cx="426.90" cy="474.30" r="1.0" fill="#555548"/>
<line x1="451.85" y1="439.90" x2="451.85" y2="444.30" stroke="#d6d6d6" stroke-width="0.7" />
<line x1="447.08" y1="439.90" x2="456.62" y2="439.90" stroke="#d6d6d6" stroke-width="0.7" />
<line x1="451.85" y1="455.10" x2="451.85" y2="460.20" stroke="#d6d6d6" stroke-width="0.7" />
<line x1="447.08" y1="460.20" x2="456.62" y2="460.20" stroke="#d6d6d6" stroke-width="0.7" />
<rect x="442.30" y="444.30" width="19.10" height="10.80" fill="none" stroke="#cdcdcd" stroke-width="0.8"/>
<line x1="442.30" y1="449.30" x2="461.40" y2="449.30" stroke="#9c9c9c" stroke-width="1.15" />
<circle cx="452.10" cy="439.90" r="1.0" fill="#22c8c8"/>
<circle cx="450.90" cy="449.30" r="1.0" fill="#22c8c8"/>
<circle cx="454.90" cy="460.20" r="1.0" fill="#22c8c8"/>
<line x1="475.25" y1="442.70" x2="475.25" y2="445.00" stroke="#d6d6d6" stroke-width="0.7" />
<line x1="470.48" y1="445.00" x2="480.02" y2="445.00" stroke="#d6d6d6" stroke-width="0.7" />
<rect x="465.70" y="440.80" width="19.10" height="1.90" fill="none" stroke="#cdcdcd" stroke-width="0.8"/>
<line x1="465.70" y1="441.50" x2="484.80" y2="441.50" stroke="#9c9c9c" stroke-width="1.15" />
<circle cx="475.50" cy="441.50" r="1.0" fill="#8a3ff0"/>
<circle cx="471.30" cy="445.00" r="1.0" fill="#8a3ff0"/>
<text x="563.30" y="423.60" font-size="9.9" text-anchor="middle" fill="#111" color="#111" style="stroke-width:0.38px" >Adaptive</text>
<rect x="514.40" y="431.70" width="98.60" height="74.60" fill="none" stroke="#a2a2a2" stroke-width="1"/>
<line x1="512.80" y1="435.20" x2="514.40" y2="435.20" stroke="#a2a2a2" stroke-width="0.7" />
<text transform="translate(511.80,435.20) rotate(-90)" font-size="3.3" text-anchor="middle" fill="#555" color="#555"  style="stroke-width:0.08px">4</text>
<line x1="512.80" y1="449.00" x2="514.40" y2="449.00" stroke="#a2a2a2" stroke-width="0.7" />
<text transform="translate(511.80,449.00) rotate(-90)" font-size="3.3" text-anchor="middle" fill="#555" color="#555"  style="stroke-width:0.08px">2</text>
<line x1="512.80" y1="462.60" x2="514.40" y2="462.60" stroke="#a2a2a2" stroke-width="0.7" />
<text transform="translate(511.80,462.60) rotate(-90)" font-size="3.3" text-anchor="middle" fill="#555" color="#555"  style="stroke-width:0.08px">0</text>
<line x1="512.80" y1="476.60" x2="514.40" y2="476.60" stroke="#a2a2a2" stroke-width="0.7" />
<text transform="translate(511.80,476.60) rotate(-90)" font-size="3.3" text-anchor="middle" fill="#555" color="#555"  style="stroke-width:0.08px">-2</text>
<line x1="512.80" y1="490.10" x2="514.40" y2="490.10" stroke="#a2a2a2" stroke-width="0.7" />
<text transform="translate(511.80,490.10) rotate(-90)" font-size="3.3" text-anchor="middle" fill="#555" color="#555"  style="stroke-width:0.08px">-4</text>
<line x1="512.80" y1="504.20" x2="514.40" y2="504.20" stroke="#a2a2a2" stroke-width="0.7" />
<text transform="translate(511.80,504.20) rotate(-90)" font-size="3.3" text-anchor="middle" fill="#555" color="#555"  style="stroke-width:0.08px">-6</text>
<line x1="529.80" y1="506.30" x2="529.80" y2="507.80" stroke="#a2a2a2" stroke-width="0.7" />
<line x1="552.20" y1="506.30" x2="552.20" y2="507.80" stroke="#a2a2a2" stroke-width="0.7" />
<line x1="575.60" y1="506.30" x2="575.60" y2="507.80" stroke="#a2a2a2" stroke-width="0.7" />
<line x1="598.50" y1="506.30" x2="598.50" y2="507.80" stroke="#a2a2a2" stroke-width="0.7" />
<text transform="translate(502.50,469.20) rotate(-90)" font-size="4.45" text-anchor="middle" fill="#222" color="#222"  style="stroke-width:0.15px">Adaptive score</text>
<line x1="529.80" y1="477.10" x2="529.80" y2="486.60" stroke="#d6d6d6" stroke-width="0.7" />
<line x1="525.25" y1="477.10" x2="534.35" y2="477.10" stroke="#d6d6d6" stroke-width="0.7" />
<rect x="520.70" y="486.60" width="18.20" height="10.30" fill="none" stroke="#cdcdcd" stroke-width="0.8"/>
<line x1="520.70" y1="496.40" x2="538.90" y2="496.40" stroke="#9c9c9c" stroke-width="1.15" />
<circle cx="533.10" cy="477.10" r="1.0" fill="#ff5a5a"/>
<circle cx="532.40" cy="496.40" r="1.0" fill="#ff5a5a"/>
<circle cx="528.40" cy="498.10" r="1.0" fill="#ff5a5a"/>
<line x1="552.25" y1="464.20" x2="552.25" y2="467.20" stroke="#d6d6d6" stroke-width="0.7" />
<line x1="547.58" y1="464.20" x2="556.92" y2="464.20" stroke="#d6d6d6" stroke-width="0.7" />
<line x1="552.25" y1="478.20" x2="552.25" y2="484.30" stroke="#d6d6d6" stroke-width="0.7" />
<line x1="547.58" y1="484.30" x2="556.92" y2="484.30" stroke="#d6d6d6" stroke-width="0.7" />
<rect x="542.90" y="467.20" width="18.70" height="11.00" fill="none" stroke="#cdcdcd" stroke-width="0.8"/>
<line x1="542.90" y1="471.90" x2="561.60" y2="471.90" stroke="#9c9c9c" stroke-width="1.15" />
<circle cx="553.40" cy="464.20" r="1.0" fill="#555548"/>
<circle cx="555.30" cy="471.90" r="1.0" fill="#555548"/>
<circle cx="548.30" cy="484.30" r="1.0" fill="#555548"/>
<line x1="575.65" y1="441.10" x2="575.65" y2="443.40" stroke="#d6d6d6" stroke-width="0.7" />
<line x1="570.97" y1="441.10" x2="580.33" y2="441.10" stroke="#d6d6d6" stroke-width="0.7" />
<line x1="575.65" y1="451.40" x2="575.65" y2="456.30" stroke="#d6d6d6" stroke-width="0.7" />
<line x1="570.97" y1="456.30" x2="580.33" y2="456.30" stroke="#d6d6d6" stroke-width="0.7" />
<rect x="566.30" y="443.40" width="18.70" height="8.00" fill="none" stroke="#cdcdcd" stroke-width="0.8"/>
<line x1="566.30" y1="446.20" x2="585.00" y2="446.20" stroke="#9c9c9c" stroke-width="1.15" />
<circle cx="575.60" cy="441.10" r="1.0" fill="#22c8c8"/>
<circle cx="573.70" cy="446.20" r="1.0" fill="#22c8c8"/>
<circle cx="573.70" cy="456.30" r="1.0" fill="#22c8c8"/>
<line x1="598.55" y1="435.70" x2="598.55" y2="438.00" stroke="#d6d6d6" stroke-width="0.7" />
<line x1="593.88" y1="435.70" x2="603.22" y2="435.70" stroke="#d6d6d6" stroke-width="0.7" />
<rect x="589.20" y="438.00" width="18.70" height="1.70" fill="none" stroke="#cdcdcd" stroke-width="0.8"/>
<line x1="589.20" y1="439.00" x2="607.90" y2="439.00" stroke="#9c9c9c" stroke-width="1.15" />
<circle cx="597.10" cy="435.70" r="1.0" fill="#8a3ff0"/>
<circle cx="600.10" cy="439.00" r="1.0" fill="#8a3ff0"/>
<circle cx="597.80" cy="439.00" r="1.0" fill="#8a3ff0"/>
<text x="689.50" y="423.60" font-size="9.9" text-anchor="middle" fill="#111" color="#111" style="stroke-width:0.38px" >T-cell functions</text>
<rect x="642.70" y="431.70" width="98.40" height="74.60" fill="none" stroke="#a2a2a2" stroke-width="1"/>
<line x1="641.10" y1="440.40" x2="642.70" y2="440.40" stroke="#a2a2a2" stroke-width="0.7" />
<text transform="translate(640.10,440.40) rotate(-90)" font-size="3.3" text-anchor="middle" fill="#555" color="#555"  style="stroke-width:0.08px">4</text>
<line x1="641.10" y1="452.10" x2="642.70" y2="452.10" stroke="#a2a2a2" stroke-width="0.7" />
<text transform="translate(640.10,452.10) rotate(-90)" font-size="3.3" text-anchor="middle" fill="#555" color="#555"  style="stroke-width:0.08px">2</text>
<line x1="641.10" y1="463.30" x2="642.70" y2="463.30" stroke="#a2a2a2" stroke-width="0.7" />
<text transform="translate(640.10,463.30) rotate(-90)" font-size="3.3" text-anchor="middle" fill="#555" color="#555"  style="stroke-width:0.08px">0</text>
<line x1="641.10" y1="475.00" x2="642.70" y2="475.00" stroke="#a2a2a2" stroke-width="0.7" />
<text transform="translate(640.10,475.00) rotate(-90)" font-size="3.3" text-anchor="middle" fill="#555" color="#555"  style="stroke-width:0.08px">-2</text>
<line x1="641.10" y1="486.50" x2="642.70" y2="486.50" stroke="#a2a2a2" stroke-width="0.7" />
<text transform="translate(640.10,486.50) rotate(-90)" font-size="3.3" text-anchor="middle" fill="#555" color="#555"  style="stroke-width:0.08px">-4</text>
<line x1="641.10" y1="497.70" x2="642.70" y2="497.70" stroke="#a2a2a2" stroke-width="0.7" />
<text transform="translate(640.10,497.70) rotate(-90)" font-size="3.3" text-anchor="middle" fill="#555" color="#555"  style="stroke-width:0.08px">-6</text>
<line x1="658.00" y1="506.30" x2="658.00" y2="507.80" stroke="#a2a2a2" stroke-width="0.7" />
<line x1="680.80" y1="506.30" x2="680.80" y2="507.80" stroke="#a2a2a2" stroke-width="0.7" />
<line x1="703.80" y1="506.30" x2="703.80" y2="507.80" stroke="#a2a2a2" stroke-width="0.7" />
<line x1="727.00" y1="506.30" x2="727.00" y2="507.80" stroke="#a2a2a2" stroke-width="0.7" />
<text transform="translate(631.40,469.00) rotate(-90)" font-size="4.45" text-anchor="middle" fill="#222" color="#222"  style="stroke-width:0.15px">T-Cell Functions score</text>
<line x1="658.00" y1="477.10" x2="658.00" y2="485.30" stroke="#d6d6d6" stroke-width="0.7" />
<line x1="653.25" y1="477.10" x2="662.75" y2="477.10" stroke="#d6d6d6" stroke-width="0.7" />
<line x1="658.00" y1="497.70" x2="658.00" y2="501.90" stroke="#d6d6d6" stroke-width="0.7" />
<line x1="653.25" y1="501.90" x2="662.75" y2="501.90" stroke="#d6d6d6" stroke-width="0.7" />
<rect x="648.50" y="485.30" width="19.00" height="12.40" fill="none" stroke="#cdcdcd" stroke-width="0.8"/>
<line x1="648.50" y1="493.00" x2="667.50" y2="493.00" stroke="#9c9c9c" stroke-width="1.15" />
<circle cx="657.40" cy="477.10" r="1.0" fill="#ff5a5a"/>
<circle cx="653.20" cy="493.00" r="1.0" fill="#ff5a5a"/>
<circle cx="662.10" cy="501.90" r="1.0" fill="#ff5a5a"/>
<line x1="680.75" y1="455.60" x2="680.75" y2="463.30" stroke="#d6d6d6" stroke-width="0.7" />
<line x1="676.08" y1="455.60" x2="685.42" y2="455.60" stroke="#d6d6d6" stroke-width="0.7" />
<line x1="680.75" y1="471.30" x2="680.75" y2="473.10" stroke="#d6d6d6" stroke-width="0.7" />
<line x1="676.08" y1="473.10" x2="685.42" y2="473.10" stroke="#d6d6d6" stroke-width="0.7" />
<rect x="671.40" y="463.30" width="18.70" height="8.00" fill="none" stroke="#cdcdcd" stroke-width="0.8"/>
<line x1="671.40" y1="470.30" x2="690.10" y2="470.30" stroke="#9c9c9c" stroke-width="1.15" />
<circle cx="682.70" cy="455.60" r="1.0" fill="#555548"/>
<circle cx="682.70" cy="470.30" r="1.0" fill="#555548"/>
<circle cx="678.90" cy="473.10" r="1.0" fill="#555548"/>
<line x1="703.75" y1="440.40" x2="703.75" y2="445.10" stroke="#d6d6d6" stroke-width="0.7" />
<line x1="699.08" y1="440.40" x2="708.42" y2="440.40" stroke="#d6d6d6" stroke-width="0.7" />
<line x1="703.75" y1="459.10" x2="703.75" y2="466.60" stroke="#d6d6d6" stroke-width="0.7" />
<line x1="699.08" y1="466.60" x2="708.42" y2="466.60" stroke="#d6d6d6" stroke-width="0.7" />
<rect x="694.40" y="445.10" width="18.70" height="14.00" fill="none" stroke="#cdcdcd" stroke-width="0.8"/>
<line x1="694.40" y1="450.90" x2="713.10" y2="450.90" stroke="#9c9c9c" stroke-width="1.15" />
<circle cx="705.30" cy="440.40" r="1.0" fill="#22c8c8"/>
<circle cx="705.80" cy="450.90" r="1.0" fill="#22c8c8"/>
<circle cx="699.50" cy="466.60" r="1.0" fill="#22c8c8"/>
<line x1="726.95" y1="436.90" x2="726.95" y2="441.60" stroke="#d6d6d6" stroke-width="0.7" />
<line x1="722.33" y1="436.90" x2="731.58" y2="436.90" stroke="#d6d6d6" stroke-width="0.7" />
<rect x="717.70" y="441.60" width="18.50" height="5.30" fill="none" stroke="#cdcdcd" stroke-width="0.8"/>
<line x1="717.70" y1="446.70" x2="736.20" y2="446.70" stroke="#9c9c9c" stroke-width="1.15" />
<circle cx="721.70" cy="436.90" r="1.0" fill="#8a3ff0"/>
<circle cx="724.50" cy="446.90" r="1.0" fill="#8a3ff0"/>
<circle cx="722.90" cy="447.50" r="1.0" fill="#8a3ff0"/>
<text x="401.90" y="522.40" font-size="7.7" text-anchor="middle" fill="#ff2020" color="#ff2020" style="stroke-width:0.29px" >ctrl</text>
<text x="423.90" y="522.40" font-size="7.7" text-anchor="middle" fill="#555555" color="#555555" style="stroke-width:0.29px" >XRT</text>
<text x="449.00" y="522.40" font-size="7.7" text-anchor="middle" fill="#19d4e0" color="#19d4e0" style="stroke-width:0.29px" >XRT</text>
<text x="449.00" y="532.20" font-size="7.7" text-anchor="middle" fill="#19d4e0" color="#19d4e0" style="stroke-width:0.29px" >+NLRP3</text>
<text x="477.40" y="522.40" font-size="7.7" text-anchor="middle" fill="#7a30c8" color="#7a30c8" style="stroke-width:0.29px" >Triple</text>
<text x="526.60" y="523.30" font-size="7.7" text-anchor="middle" fill="#ff2020" color="#ff2020" style="stroke-width:0.29px" >ctrl</text>
<text x="549.10" y="523.30" font-size="7.7" text-anchor="middle" fill="#555555" color="#555555" style="stroke-width:0.29px" >XRT</text>
<text x="574.70" y="523.30" font-size="7.7" text-anchor="middle" fill="#19d4e0" color="#19d4e0" style="stroke-width:0.29px" >XRT</text>
<text x="574.70" y="533.00" font-size="7.7" text-anchor="middle" fill="#19d4e0" color="#19d4e0" style="stroke-width:0.29px" >+NLRP3</text>
<text x="602.30" y="523.30" font-size="7.7" text-anchor="middle" fill="#7a30c8" color="#7a30c8" style="stroke-width:0.29px" >Triple</text>
<text x="654.50" y="523.90" font-size="7.7" text-anchor="middle" fill="#ff2020" color="#ff2020" style="stroke-width:0.29px" >ctrl</text>
<text x="676.50" y="523.90" font-size="7.7" text-anchor="middle" fill="#555555" color="#555555" style="stroke-width:0.29px" >XRT</text>
<text x="703.40" y="523.90" font-size="7.7" text-anchor="middle" fill="#19d4e0" color="#19d4e0" style="stroke-width:0.29px" >XRT</text>
<text x="703.40" y="533.60" font-size="7.7" text-anchor="middle" fill="#19d4e0" color="#19d4e0" style="stroke-width:0.29px" >+NLRP3</text>
<text x="730.70" y="523.90" font-size="7.7" text-anchor="middle" fill="#7a30c8" color="#7a30c8" style="stroke-width:0.29px" >Triple</text>
</svg>
</body></html>
